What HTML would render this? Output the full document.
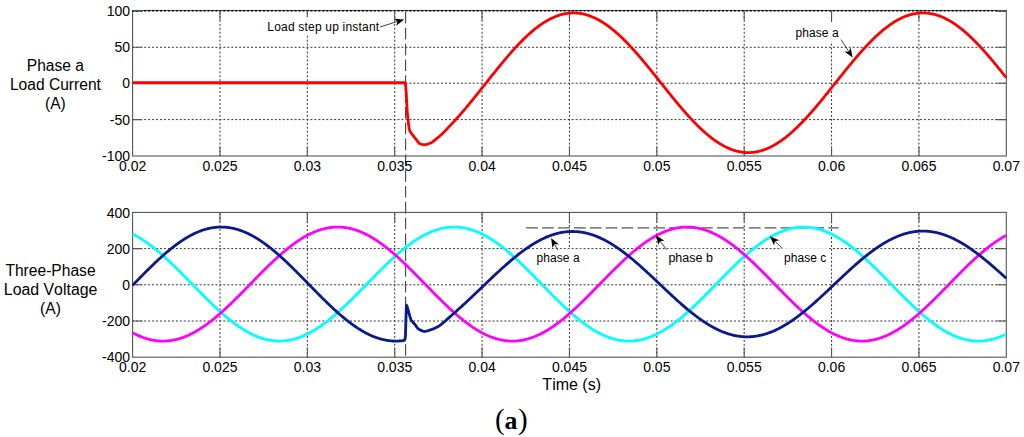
<!DOCTYPE html>
<html><head><meta charset="utf-8"><style>
html,body{margin:0;padding:0;background:#fff;}
body{width:1024px;height:437px;overflow:hidden;}
svg{display:block;}
text{font-family:"Liberation Sans", sans-serif;fill:#000;font-kerning:none;}
.tk text{font-size:14px;}
.yl text{font-size:15.6px;}
.tl{font-size:16px !important;}
.an text{font-size:12px;letter-spacing:0.05px;}
.sf text{font-family:"Liberation Serif", serif;}
</style></head><body>
<svg width="1024" height="437" viewBox="0 0 1024 437">
<rect width="1024" height="437" fill="#fff"/>
<rect x="132.60" y="10.50" width="873.70" height="145.50" fill="none" stroke="#555" stroke-width="1.1"/>
<path d="M219.97,10.50 V156.00 M307.34,10.50 V156.00 M394.71,10.50 V156.00 M482.08,10.50 V156.00 M569.45,10.50 V156.00 M656.82,10.50 V156.00 M744.19,10.50 V156.00 M831.56,10.50 V156.00 M918.93,10.50 V156.00" stroke="#333" stroke-width="1" stroke-dasharray="1.979 1.979" stroke-dashoffset="2.4955" fill="none"/>
<path d="M132.60,47.30 H1006.30 M132.60,83.20 H1006.30 M132.60,119.60 H1006.30" stroke="#333" stroke-width="1" stroke-dasharray="1.979 1.979" stroke-dashoffset="0.2755" fill="none"/>
<path d="M132.60,10.70 H1006.30" stroke="#000" stroke-width="1.6" stroke-dasharray="1.979 1.979" stroke-dashoffset="0.2755" fill="none"/><path d="M132.60,10.70 h9.8 M1006.30,10.70 h-9.8" stroke="#000" stroke-width="1.6" fill="none"/>
<path d="M219.97,156.00 v-9.6 M219.97,10.50 v9.6 M307.34,156.00 v-9.6 M307.34,10.50 v9.6 M394.71,156.00 v-9.6 M394.71,10.50 v9.6 M482.08,156.00 v-9.6 M482.08,10.50 v9.6 M569.45,156.00 v-9.6 M569.45,10.50 v9.6 M656.82,156.00 v-9.6 M656.82,10.50 v9.6 M744.19,156.00 v-9.6 M744.19,10.50 v9.6 M831.56,156.00 v-9.6 M831.56,10.50 v9.6 M918.93,156.00 v-9.6 M918.93,10.50 v9.6 M132.60,10.50 h9.6 M1006.30,10.50 h-9.6 M132.60,47.30 h9.6 M1006.30,47.30 h-9.6 M132.60,83.20 h9.6 M1006.30,83.20 h-9.6 M132.60,119.60 h9.6 M1006.30,119.60 h-9.6" stroke="#555" stroke-width="1.1" fill="none"/>
<rect x="132.60" y="212.40" width="873.70" height="144.80" fill="none" stroke="#555" stroke-width="1.1"/>
<path d="M219.97,212.40 V357.20 M307.34,212.40 V357.20 M394.71,212.40 V357.20 M482.08,212.40 V357.20 M569.45,212.40 V357.20 M656.82,212.40 V357.20 M744.19,212.40 V357.20 M831.56,212.40 V357.20 M918.93,212.40 V357.20" stroke="#333" stroke-width="1" stroke-dasharray="1.979 1.979" stroke-dashoffset="3.108" fill="none"/>
<path d="M132.60,248.60 H1006.30 M132.60,284.80 H1006.30 M132.60,321.00 H1006.30" stroke="#333" stroke-width="1" stroke-dasharray="1.979 1.979" stroke-dashoffset="0.2755" fill="none"/>
<path d="M219.97,357.20 v-9.6 M219.97,212.40 v9.6 M307.34,357.20 v-9.6 M307.34,212.40 v9.6 M394.71,357.20 v-9.6 M394.71,212.40 v9.6 M482.08,357.20 v-9.6 M482.08,212.40 v9.6 M569.45,357.20 v-9.6 M569.45,212.40 v9.6 M656.82,357.20 v-9.6 M656.82,212.40 v9.6 M744.19,357.20 v-9.6 M744.19,212.40 v9.6 M831.56,357.20 v-9.6 M831.56,212.40 v9.6 M918.93,357.20 v-9.6 M918.93,212.40 v9.6 M132.60,248.60 h9.6 M1006.30,248.60 h-9.6 M132.60,284.80 h9.6 M1006.30,284.80 h-9.6 M132.60,321.00 h9.6 M1006.30,321.00 h-9.6" stroke="#555" stroke-width="1.1" fill="none"/>
<path d="M405.6,10.50 V357.20" stroke="#444" stroke-width="1.1" stroke-dasharray="11.6 4.22" stroke-dashoffset="14.32" fill="none"/>
<path d="M526.2,227.9 H838.5" stroke="#555" stroke-width="1.1" stroke-dasharray="11.7 4.2" fill="none"/>
<g fill="none" stroke-width="2.8" stroke-linejoin="round" stroke-linecap="butt">
<path d="M132.60,234.08 L133.18,234.37 L133.77,234.67 L134.35,234.97 L134.93,235.28 L135.51,235.59 L136.10,235.91 L136.68,236.23 L137.26,236.56 L137.85,236.89 L138.43,237.23 L139.01,237.57 L139.59,237.92 L140.18,238.27 L140.76,238.63 L141.34,238.99 L141.93,239.36 L142.51,239.73 L143.09,240.11 L143.67,240.49 L144.26,240.88 L144.84,241.27 L145.42,241.67 L146.01,242.07 L146.59,242.48 L147.17,242.89 L147.75,243.31 L148.34,243.73 L148.92,244.15 L149.50,244.58 L150.09,245.01 L150.67,245.45 L151.25,245.89 L151.83,246.34 L152.42,246.79 L153.00,247.24 L153.58,247.70 L154.17,248.16 L154.75,248.63 L155.33,249.10 L155.91,249.57 L156.50,250.05 L157.08,250.53 L157.66,251.01 L158.25,251.50 L158.83,251.99 L159.41,252.49 L159.99,252.99 L160.58,253.49 L161.16,254.00 L161.74,254.51 L162.33,255.02 L162.91,255.53 L163.49,256.05 L164.07,256.58 L164.66,257.10 L165.24,257.63 L165.82,258.16 L166.41,258.69 L166.99,259.23 L167.57,259.77 L168.15,260.31 L168.74,260.85 L169.32,261.40 L169.90,261.95 L170.49,262.50 L171.07,263.06 L171.65,263.61 L172.23,264.17 L172.82,264.73 L173.40,265.30 L173.98,265.86 L174.57,266.43 L175.15,267.00 L175.73,267.57 L176.31,268.14 L176.90,268.72 L177.48,269.29 L178.06,269.87 L178.65,270.45 L179.23,271.03 L179.81,271.61 L180.39,272.20 L180.98,272.78 L181.56,273.37 L182.14,273.95 L182.73,274.54 L183.31,275.13 L183.89,275.72 L184.47,276.31 L185.06,276.91 L185.64,277.50 L186.22,278.09 L186.81,278.69 L187.39,279.28 L187.97,279.88 L188.55,280.47 L189.14,281.07 L189.72,281.67 L190.30,282.26 L190.89,282.86 L191.47,283.46 L192.05,284.06 L192.63,284.65 L193.22,285.25 L193.80,285.85 L194.38,286.45 L194.97,287.04 L195.55,287.64 L196.13,288.24 L196.71,288.83 L197.30,289.43 L197.88,290.02 L198.46,290.61 L199.05,291.21 L199.63,291.80 L200.21,292.39 L200.79,292.98 L201.38,293.57 L201.96,294.16 L202.54,294.75 L203.13,295.33 L203.71,295.92 L204.29,296.50 L204.87,297.09 L205.46,297.67 L206.04,298.25 L206.62,298.82 L207.21,299.40 L207.79,299.97 L208.37,300.55 L208.95,301.12 L209.54,301.69 L210.12,302.26 L210.70,302.82 L211.29,303.38 L211.87,303.94 L212.45,304.50 L213.03,305.06 L213.62,305.61 L214.20,306.17 L214.78,306.72 L215.37,307.26 L215.95,307.81 L216.53,308.35 L217.11,308.89 L217.70,309.43 L218.28,309.96 L218.86,310.49 L219.45,311.02 L220.03,311.54 L220.61,312.07 L221.19,312.58 L221.78,313.10 L222.36,313.61 L222.94,314.12 L223.53,314.63 L224.11,315.13 L224.69,315.63 L225.27,316.13 L225.86,316.62 L226.44,317.11 L227.02,317.59 L227.61,318.07 L228.19,318.55 L228.77,319.03 L229.35,319.50 L229.94,319.96 L230.52,320.42 L231.10,320.88 L231.69,321.34 L232.27,321.79 L232.85,322.23 L233.43,322.67 L234.02,323.11 L234.60,323.55 L235.18,323.97 L235.77,324.40 L236.35,324.82 L236.93,325.24 L237.51,325.65 L238.10,326.05 L238.68,326.45 L239.26,326.85 L239.85,327.24 L240.43,327.63 L241.01,328.02 L241.59,328.39 L242.18,328.77 L242.76,329.14 L243.34,329.50 L243.93,329.86 L244.51,330.21 L245.09,330.56 L245.67,330.90 L246.26,331.24 L246.84,331.58 L247.42,331.90 L248.01,332.23 L248.59,332.54 L249.17,332.85 L249.75,333.16 L250.34,333.46 L250.92,333.76 L251.50,334.05 L252.09,334.33 L252.67,334.61 L253.25,334.89 L253.83,335.16 L254.42,335.42 L255.00,335.67 L255.58,335.93 L256.17,336.17 L256.75,336.41 L257.33,336.65 L257.91,336.87 L258.50,337.10 L259.08,337.31 L259.66,337.52 L260.25,337.73 L260.83,337.93 L261.41,338.12 L261.99,338.31 L262.58,338.49 L263.16,338.67 L263.74,338.84 L264.33,339.00 L264.91,339.16 L265.49,339.31 L266.07,339.45 L266.66,339.59 L267.24,339.72 L267.82,339.85 L268.41,339.97 L268.99,340.09 L269.57,340.20 L270.15,340.30 L270.74,340.39 L271.32,340.48 L271.90,340.57 L272.49,340.65 L273.07,340.72 L273.65,340.78 L274.23,340.84 L274.82,340.89 L275.40,340.94 L275.98,340.98 L276.57,341.01 L277.15,341.04 L277.73,341.06 L278.31,341.08 L278.90,341.09 L279.48,341.09 L280.06,341.09 L280.65,341.08 L281.23,341.06 L281.81,341.04 L282.39,341.01 L282.98,340.98 L283.56,340.93 L284.14,340.89 L284.73,340.83 L285.31,340.77 L285.89,340.71 L286.47,340.64 L287.06,340.56 L287.64,340.47 L288.22,340.38 L288.81,340.28 L289.39,340.18 L289.97,340.07 L290.55,339.96 L291.14,339.83 L291.72,339.71 L292.30,339.57 L292.89,339.43 L293.47,339.29 L294.05,339.14 L294.63,338.98 L295.22,338.81 L295.80,338.64 L296.38,338.47 L296.97,338.28 L297.55,338.10 L298.13,337.90 L298.71,337.70 L299.30,337.50 L299.88,337.28 L300.46,337.07 L301.05,336.84 L301.63,336.61 L302.21,336.38 L302.79,336.14 L303.38,335.89 L303.96,335.64 L304.54,335.38 L305.13,335.12 L305.71,334.85 L306.29,334.58 L306.87,334.30 L307.46,334.01 L308.04,333.72 L308.62,333.42 L309.21,333.12 L309.79,332.81 L310.37,332.50 L310.95,332.18 L311.54,331.86 L312.12,331.53 L312.70,331.20 L313.29,330.86 L313.87,330.51 L314.45,330.16 L315.03,329.81 L315.62,329.45 L316.20,329.09 L316.78,328.72 L317.37,328.34 L317.95,327.96 L318.53,327.58 L319.11,327.19 L319.70,326.80 L320.28,326.40 L320.86,326.00 L321.45,325.59 L322.03,325.18 L322.61,324.76 L323.19,324.34 L323.78,323.92 L324.36,323.49 L324.94,323.05 L325.53,322.61 L326.11,322.17 L326.69,321.73 L327.27,321.28 L327.86,320.82 L328.44,320.36 L329.02,319.90 L329.61,319.43 L330.19,318.96 L330.77,318.49 L331.35,318.01 L331.94,317.53 L332.52,317.04 L333.10,316.55 L333.69,316.06 L334.27,315.56 L334.85,315.06 L335.43,314.56 L336.02,314.05 L336.60,313.54 L337.18,313.03 L337.77,312.51 L338.35,311.99 L338.93,311.47 L339.51,310.95 L340.10,310.42 L340.68,309.89 L341.26,309.35 L341.85,308.82 L342.43,308.28 L343.01,307.73 L343.59,307.19 L344.18,306.64 L344.76,306.09 L345.34,305.54 L345.93,304.98 L346.51,304.43 L347.09,303.87 L347.67,303.31 L348.26,302.74 L348.84,302.18 L349.42,301.61 L350.01,301.04 L350.59,300.47 L351.17,299.90 L351.75,299.32 L352.34,298.75 L352.92,298.17 L353.50,297.59 L354.08,297.01 L354.67,296.42 L355.25,295.84 L355.83,295.25 L356.42,294.67 L357.00,294.08 L357.58,293.49 L358.16,292.90 L358.75,292.31 L359.33,291.72 L359.91,291.13 L360.50,290.53 L361.08,289.94 L361.66,289.35 L362.24,288.75 L362.83,288.15 L363.41,287.56 L363.99,286.96 L364.58,286.36 L365.16,285.77 L365.74,285.17 L366.32,284.57 L366.91,283.98 L367.49,283.38 L368.07,282.78 L368.66,282.18 L369.24,281.59 L369.82,280.99 L370.40,280.39 L370.99,279.80 L371.57,279.20 L372.15,278.61 L372.74,278.01 L373.32,277.42 L373.90,276.83 L374.48,276.23 L375.07,275.64 L375.65,275.05 L376.23,274.46 L376.82,273.87 L377.40,273.29 L377.98,272.70 L378.56,272.12 L379.15,271.53 L379.73,270.95 L380.31,270.37 L380.90,269.79 L381.48,269.21 L382.06,268.64 L382.64,268.06 L383.23,267.49 L383.81,266.92 L384.39,266.35 L384.98,265.78 L385.56,265.22 L386.14,264.66 L386.72,264.10 L387.31,263.54 L387.89,262.98 L388.47,262.43 L389.06,261.88 L389.64,261.33 L390.22,260.78 L390.80,260.24 L391.39,259.69 L391.97,259.16 L392.55,258.62 L393.14,258.09 L393.72,257.56 L394.30,257.03 L394.88,256.50 L395.47,255.98 L396.05,255.46 L396.63,254.95 L397.22,254.44 L397.80,253.93 L398.38,253.42 L398.96,252.92 L399.55,252.42 L400.13,251.93 L400.71,251.44 L401.30,250.95 L401.88,250.46 L402.46,249.98 L403.04,249.51 L403.63,249.03 L404.21,248.56 L404.79,248.10 L405.38,247.64 L405.96,247.18 L406.54,246.72 L407.12,246.28 L407.71,245.83 L408.29,245.39 L408.87,244.95 L409.46,244.52 L410.04,244.09 L410.62,243.67 L411.20,243.25 L411.79,242.83 L412.37,242.42 L412.95,242.02 L413.54,241.62 L414.12,241.22 L414.70,240.83 L415.28,240.44 L415.87,240.06 L416.45,239.68 L417.03,239.31 L417.62,238.94 L418.20,238.58 L418.78,238.22 L419.36,237.87 L419.95,237.52 L420.53,237.18 L421.11,236.84 L421.70,236.51 L422.28,236.18 L422.86,235.86 L423.44,235.55 L424.03,235.24 L424.61,234.93 L425.19,234.63 L425.78,234.33 L426.36,234.05 L426.94,233.76 L427.52,233.48 L428.11,233.21 L428.69,232.94 L429.27,232.68 L429.86,232.43 L430.44,232.18 L431.02,231.93 L431.60,231.69 L432.19,231.46 L432.77,231.23 L433.35,231.01 L433.94,230.80 L434.52,230.59 L435.10,230.38 L435.68,230.18 L436.27,229.99 L436.85,229.81 L437.43,229.63 L438.02,229.45 L438.60,229.28 L439.18,229.12 L439.76,228.97 L440.35,228.81 L440.93,228.67 L441.51,228.53 L442.10,228.40 L442.68,228.28 L443.26,228.16 L443.84,228.04 L444.43,227.94 L445.01,227.83 L445.59,227.74 L446.18,227.65 L446.76,227.57 L447.34,227.49 L447.92,227.42 L448.51,227.36 L449.09,227.30 L449.67,227.25 L450.26,227.20 L450.84,227.16 L451.42,227.13 L452.00,227.10 L452.59,227.08 L453.17,227.07 L453.75,227.06 L454.34,227.06 L454.92,227.07 L455.50,227.08 L456.08,227.09 L456.67,227.12 L457.25,227.15 L457.83,227.18 L458.42,227.23 L459.00,227.27 L459.58,227.33 L460.16,227.39 L460.75,227.46 L461.33,227.53 L461.91,227.61 L462.50,227.70 L463.08,227.79 L463.66,227.89 L464.24,227.99 L464.83,228.10 L465.41,228.22 L465.99,228.34 L466.58,228.47 L467.16,228.61 L467.74,228.75 L468.32,228.89 L468.91,229.05 L469.49,229.21 L470.07,229.37 L470.66,229.54 L471.24,229.72 L471.82,229.90 L472.40,230.09 L472.99,230.29 L473.57,230.49 L474.15,230.70 L474.74,230.91 L475.32,231.13 L475.90,231.35 L476.48,231.58 L477.07,231.82 L477.65,232.06 L478.23,232.31 L478.82,232.56 L479.40,232.82 L479.98,233.09 L480.56,233.36 L481.15,233.63 L481.73,233.91 L482.31,234.20 L482.90,234.49 L483.48,234.79 L484.06,235.09 L484.64,235.40 L485.23,235.72 L485.81,236.03 L486.39,236.36 L486.98,236.69 L487.56,237.02 L488.14,237.36 L488.72,237.71 L489.31,238.06 L489.89,238.41 L490.47,238.77 L491.06,239.14 L491.64,239.51 L492.22,239.88 L492.80,240.26 L493.39,240.65 L493.97,241.04 L494.55,241.43 L495.14,241.83 L495.72,242.24 L496.30,242.64 L496.88,243.06 L497.47,243.47 L498.05,243.89 L498.63,244.32 L499.22,244.75 L499.80,245.19 L500.38,245.63 L500.96,246.07 L501.55,246.52 L502.13,246.97 L502.71,247.42 L503.30,247.88 L503.88,248.35 L504.46,248.81 L505.04,249.29 L505.63,249.76 L506.21,250.24 L506.79,250.72 L507.38,251.21 L507.96,251.70 L508.54,252.19 L509.12,252.69 L509.71,253.19 L510.29,253.69 L510.87,254.20 L511.46,254.71 L512.04,255.22 L512.62,255.74 L513.20,256.26 L513.79,256.78 L514.37,257.31 L514.95,257.84 L515.54,258.37 L516.12,258.91 L516.70,259.44 L517.28,259.98 L517.87,260.53 L518.45,261.07 L519.03,261.62 L519.62,262.17 L520.20,262.72 L520.78,263.28 L521.36,263.84 L521.95,264.40 L522.53,264.96 L523.11,265.52 L523.70,266.09 L524.28,266.66 L524.86,267.23 L525.44,267.80 L526.03,268.37 L526.61,268.95 L527.19,269.52 L527.78,270.10 L528.36,270.68 L528.94,271.26 L529.52,271.85 L530.11,272.43 L530.69,273.01 L531.27,273.60 L531.86,274.19 L532.44,274.78 L533.02,275.37 L533.60,275.96 L534.19,276.55 L534.77,277.14 L535.35,277.74 L535.94,278.33 L536.52,278.93 L537.10,279.52 L537.68,280.12 L538.27,280.71 L538.85,281.31 L539.43,281.91 L540.02,282.50 L540.60,283.10 L541.18,283.70 L541.76,284.30 L542.35,284.89 L542.93,285.49 L543.51,286.09 L544.10,286.68 L544.68,287.28 L545.26,287.88 L545.84,288.47 L546.43,289.07 L547.01,289.66 L547.59,290.26 L548.18,290.85 L548.76,291.44 L549.34,292.04 L549.92,292.63 L550.51,293.22 L551.09,293.81 L551.67,294.40 L552.26,294.98 L552.84,295.57 L553.42,296.15 L554.00,296.74 L554.59,297.32 L555.17,297.90 L555.75,298.48 L556.34,299.05 L556.92,299.63 L557.50,300.20 L558.08,300.78 L558.67,301.35 L559.25,301.91 L559.83,302.48 L560.42,303.05 L561.00,303.61 L561.58,304.17 L562.16,304.73 L562.75,305.28 L563.33,305.84 L563.91,306.39 L564.50,306.94 L565.08,307.48 L565.66,308.02 L566.24,308.57 L566.83,309.10 L567.41,309.64 L567.99,310.17 L568.58,310.70 L569.16,311.23 L569.74,311.75 L570.32,312.27 L570.91,312.79 L571.49,313.31 L572.07,313.82 L572.66,314.32 L573.24,314.83 L573.82,315.33 L574.40,315.83 L574.99,316.32 L575.57,316.81 L576.15,317.30 L576.74,317.79 L577.32,318.27 L577.90,318.74 L578.48,319.21 L579.07,319.68 L579.65,320.15 L580.23,320.61 L580.82,321.06 L581.40,321.52 L581.98,321.97 L582.56,322.41 L583.15,322.85 L583.73,323.29 L584.31,323.72 L584.90,324.15 L585.48,324.57 L586.06,324.99 L586.64,325.40 L587.23,325.81 L587.81,326.21 L588.39,326.61 L588.98,327.01 L589.56,327.40 L590.14,327.79 L590.72,328.17 L591.31,328.54 L591.89,328.92 L592.47,329.28 L593.06,329.64 L593.64,330.00 L594.22,330.35 L594.80,330.70 L595.39,331.04 L595.97,331.38 L596.55,331.71 L597.14,332.03 L597.72,332.35 L598.30,332.67 L598.88,332.98 L599.47,333.28 L600.05,333.58 L600.63,333.88 L601.22,334.16 L601.80,334.45 L602.38,334.72 L602.96,335.00 L603.55,335.26 L604.13,335.52 L604.71,335.78 L605.30,336.03 L605.88,336.27 L606.46,336.51 L607.04,336.74 L607.63,336.96 L608.21,337.18 L608.79,337.40 L609.38,337.61 L609.96,337.81 L610.54,338.01 L611.12,338.20 L611.71,338.38 L612.29,338.56 L612.87,338.73 L613.46,338.90 L614.04,339.06 L614.62,339.22 L615.20,339.37 L615.79,339.51 L616.37,339.65 L616.95,339.78 L617.54,339.90 L618.12,340.02 L618.70,340.13 L619.28,340.24 L619.87,340.34 L620.45,340.43 L621.03,340.52 L621.62,340.60 L622.20,340.68 L622.78,340.74 L623.36,340.81 L623.95,340.86 L624.53,340.91 L625.11,340.96 L625.70,341.00 L626.28,341.03 L626.86,341.05 L627.44,341.07 L628.03,341.08 L628.61,341.09 L629.19,341.09 L629.78,341.08 L630.36,341.07 L630.94,341.05 L631.52,341.03 L632.11,341.00 L632.69,340.96 L633.27,340.92 L633.86,340.87 L634.44,340.81 L635.02,340.75 L635.60,340.68 L636.19,340.61 L636.77,340.52 L637.35,340.44 L637.94,340.34 L638.52,340.24 L639.10,340.14 L639.68,340.03 L640.27,339.91 L640.85,339.78 L641.43,339.65 L642.02,339.52 L642.60,339.38 L643.18,339.23 L643.76,339.07 L644.35,338.91 L644.93,338.75 L645.51,338.57 L646.10,338.39 L646.68,338.21 L647.26,338.02 L647.84,337.82 L648.43,337.62 L649.01,337.41 L649.59,337.20 L650.18,336.98 L650.76,336.75 L651.34,336.52 L651.92,336.28 L652.51,336.04 L653.09,335.79 L653.67,335.54 L654.26,335.28 L654.84,335.01 L655.42,334.74 L656.00,334.46 L656.59,334.18 L657.17,333.89 L657.75,333.60 L658.34,333.30 L658.92,333.00 L659.50,332.69 L660.08,332.37 L660.67,332.05 L661.25,331.73 L661.83,331.40 L662.42,331.06 L663.00,330.72 L663.58,330.37 L664.16,330.02 L664.75,329.67 L665.33,329.31 L665.91,328.94 L666.50,328.57 L667.08,328.19 L667.66,327.81 L668.24,327.43 L668.83,327.04 L669.41,326.64 L669.99,326.24 L670.58,325.84 L671.16,325.43 L671.74,325.01 L672.32,324.59 L672.91,324.17 L673.49,323.75 L674.07,323.31 L674.66,322.88 L675.24,322.44 L675.82,321.99 L676.40,321.55 L676.99,321.09 L677.57,320.64 L678.15,320.18 L678.74,319.71 L679.32,319.24 L679.90,318.77 L680.48,318.30 L681.07,317.82 L681.65,317.33 L682.23,316.85 L682.82,316.36 L683.40,315.86 L683.98,315.36 L684.56,314.86 L685.15,314.36 L685.73,313.85 L686.31,313.34 L686.90,312.82 L687.48,312.31 L688.06,311.79 L688.64,311.26 L689.23,310.74 L689.81,310.21 L690.39,309.67 L690.98,309.14 L691.56,308.60 L692.14,308.06 L692.72,307.52 L693.31,306.97 L693.89,306.42 L694.47,305.87 L695.06,305.32 L695.64,304.76 L696.22,304.20 L696.80,303.64 L697.39,303.08 L697.97,302.52 L698.55,301.95 L699.14,301.38 L699.72,300.81 L700.30,300.24 L700.88,299.67 L701.47,299.09 L702.05,298.51 L702.63,297.94 L703.22,297.36 L703.80,296.77 L704.38,296.19 L704.96,295.61 L705.55,295.02 L706.13,294.43 L706.71,293.84 L707.30,293.26 L707.88,292.67 L708.46,292.07 L709.04,291.48 L709.63,290.89 L710.21,290.30 L710.79,289.70 L711.38,289.11 L711.96,288.51 L712.54,287.92 L713.12,287.32 L713.71,286.72 L714.29,286.13 L714.87,285.53 L715.46,284.93 L716.04,284.33 L716.62,283.74 L717.20,283.14 L717.79,282.54 L718.37,281.94 L718.95,281.35 L719.54,280.75 L720.12,280.15 L720.70,279.56 L721.28,278.96 L721.87,278.37 L722.45,277.77 L723.03,277.18 L723.62,276.59 L724.20,276.00 L724.78,275.41 L725.36,274.82 L725.95,274.23 L726.53,273.64 L727.11,273.05 L727.70,272.47 L728.28,271.88 L728.86,271.30 L729.44,270.72 L730.03,270.14 L730.61,269.56 L731.19,268.98 L731.78,268.41 L732.36,267.83 L732.94,267.26 L733.52,266.69 L734.11,266.12 L734.69,265.56 L735.27,264.99 L735.86,264.43 L736.44,263.87 L737.02,263.31 L737.60,262.76 L738.19,262.21 L738.77,261.66 L739.35,261.11 L739.94,260.56 L740.52,260.02 L741.10,259.48 L741.68,258.94 L742.27,258.41 L742.85,257.87 L743.43,257.34 L744.02,256.82 L744.60,256.30 L745.18,255.77 L745.76,255.26 L746.35,254.74 L746.93,254.23 L747.51,253.73 L748.10,253.22 L748.68,252.72 L749.26,252.22 L749.84,251.73 L750.43,251.24 L751.01,250.75 L751.59,250.27 L752.18,249.79 L752.76,249.32 L753.34,248.84 L753.92,248.38 L754.51,247.91 L755.09,247.45 L755.67,247.00 L756.26,246.54 L756.84,246.10 L757.42,245.65 L758.00,245.21 L758.59,244.78 L759.17,244.35 L759.75,243.92 L760.34,243.50 L760.92,243.08 L761.50,242.67 L762.08,242.26 L762.67,241.86 L763.25,241.46 L763.83,241.06 L764.42,240.67 L765.00,240.29 L765.58,239.91 L766.16,239.53 L766.75,239.16 L767.33,238.80 L767.91,238.44 L768.50,238.08 L769.08,237.73 L769.66,237.38 L770.24,237.04 L770.83,236.71 L771.41,236.38 L771.99,236.05 L772.58,235.74 L773.16,235.42 L773.74,235.11 L774.32,234.81 L774.91,234.51 L775.49,234.22 L776.07,233.93 L776.66,233.65 L777.24,233.37 L777.82,233.10 L778.40,232.84 L778.99,232.58 L779.57,232.33 L780.15,232.08 L780.74,231.84 L781.32,231.60 L781.90,231.37 L782.48,231.14 L783.07,230.92 L783.65,230.71 L784.23,230.50 L784.82,230.30 L785.40,230.11 L785.98,229.92 L786.56,229.73 L787.15,229.56 L787.73,229.38 L788.31,229.22 L788.89,229.06 L789.48,228.90 L790.06,228.76 L790.64,228.62 L791.23,228.48 L791.81,228.35 L792.39,228.23 L792.97,228.11 L793.56,228.00 L794.14,227.89 L794.72,227.80 L795.31,227.70 L795.89,227.62 L796.47,227.54 L797.05,227.46 L797.64,227.39 L798.22,227.33 L798.80,227.28 L799.39,227.23 L799.97,227.19 L800.55,227.15 L801.13,227.12 L801.72,227.10 L802.30,227.08 L802.88,227.07 L803.47,227.06 L804.05,227.06 L804.63,227.07 L805.21,227.08 L805.80,227.10 L806.38,227.13 L806.96,227.16 L807.55,227.20 L808.13,227.24 L808.71,227.30 L809.29,227.35 L809.88,227.42 L810.46,227.49 L811.04,227.56 L811.63,227.64 L812.21,227.73 L812.79,227.83 L813.37,227.93 L813.96,228.04 L814.54,228.15 L815.12,228.27 L815.71,228.39 L816.29,228.52 L816.87,228.66 L817.45,228.81 L818.04,228.96 L818.62,229.11 L819.20,229.27 L819.79,229.44 L820.37,229.61 L820.95,229.79 L821.53,229.98 L822.12,230.17 L822.70,230.37 L823.28,230.57 L823.87,230.78 L824.45,231.00 L825.03,231.22 L825.61,231.45 L826.20,231.68 L826.78,231.92 L827.36,232.16 L827.95,232.41 L828.53,232.67 L829.11,232.93 L829.69,233.19 L830.28,233.47 L830.86,233.74 L831.44,234.03 L832.03,234.32 L832.61,234.61 L833.19,234.91 L833.77,235.22 L834.36,235.53 L834.94,235.84 L835.52,236.16 L836.11,236.49 L836.69,236.82 L837.27,237.16 L837.85,237.50 L838.44,237.85 L839.02,238.20 L839.60,238.56 L840.19,238.92 L840.77,239.29 L841.35,239.66 L841.93,240.04 L842.52,240.42 L843.10,240.80 L843.68,241.20 L844.27,241.59 L844.85,241.99 L845.43,242.40 L846.01,242.81 L846.60,243.22 L847.18,243.64 L847.76,244.06 L848.35,244.49 L848.93,244.92 L849.51,245.36 L850.09,245.80 L850.68,246.25 L851.26,246.70 L851.84,247.15 L852.43,247.61 L853.01,248.07 L853.59,248.53 L854.17,249.00 L854.76,249.47 L855.34,249.95 L855.92,250.43 L856.51,250.92 L857.09,251.40 L857.67,251.90 L858.25,252.39 L858.84,252.89 L859.42,253.39 L860.00,253.90 L860.59,254.40 L861.17,254.92 L861.75,255.43 L862.33,255.95 L862.92,256.47 L863.50,256.99 L864.08,257.52 L864.67,258.05 L865.25,258.59 L865.83,259.12 L866.41,259.66 L867.00,260.20 L867.58,260.74 L868.16,261.29 L868.75,261.84 L869.33,262.39 L869.91,262.95 L870.49,263.50 L871.08,264.06 L871.66,264.62 L872.24,265.18 L872.83,265.75 L873.41,266.31 L873.99,266.88 L874.57,267.45 L875.16,268.03 L875.74,268.60 L876.32,269.18 L876.91,269.75 L877.49,270.33 L878.07,270.91 L878.65,271.50 L879.24,272.08 L879.82,272.66 L880.40,273.25 L880.99,273.84 L881.57,274.42 L882.15,275.01 L882.73,275.60 L883.32,276.20 L883.90,276.79 L884.48,277.38 L885.07,277.97 L885.65,278.57 L886.23,279.16 L886.81,279.76 L887.40,280.36 L887.98,280.95 L888.56,281.55 L889.15,282.15 L889.73,282.74 L890.31,283.34 L890.89,283.94 L891.48,284.53 L892.06,285.13 L892.64,285.73 L893.23,286.33 L893.81,286.92 L894.39,287.52 L894.97,288.12 L895.56,288.71 L896.14,289.31 L896.72,289.90 L897.31,290.50 L897.89,291.09 L898.47,291.68 L899.05,292.27 L899.64,292.86 L900.22,293.45 L900.80,294.04 L901.39,294.63 L901.97,295.22 L902.55,295.80 L903.13,296.39 L903.72,296.97 L904.30,297.55 L904.88,298.13 L905.47,298.71 L906.05,299.28 L906.63,299.86 L907.21,300.43 L907.80,301.00 L908.38,301.57 L908.96,302.14 L909.55,302.71 L910.13,303.27 L910.71,303.83 L911.29,304.39 L911.88,304.95 L912.46,305.50 L913.04,306.06 L913.63,306.61 L914.21,307.15 L914.79,307.70 L915.37,308.24 L915.96,308.78 L916.54,309.32 L917.12,309.85 L917.71,310.38 L918.29,310.91 L918.87,311.44 L919.45,311.96 L920.04,312.48 L920.62,313.00 L921.20,313.51 L921.79,314.02 L922.37,314.53 L922.95,315.03 L923.53,315.53 L924.12,316.03 L924.70,316.52 L925.28,317.01 L925.87,317.50 L926.45,317.98 L927.03,318.46 L927.61,318.93 L928.20,319.40 L928.78,319.87 L929.36,320.33 L929.95,320.79 L930.53,321.25 L931.11,321.70 L931.69,322.14 L932.28,322.59 L932.86,323.03 L933.44,323.46 L934.03,323.89 L934.61,324.31 L935.19,324.74 L935.77,325.15 L936.36,325.56 L936.94,325.97 L937.52,326.37 L938.11,326.77 L938.69,327.17 L939.27,327.56 L939.85,327.94 L940.44,328.32 L941.02,328.69 L941.60,329.06 L942.19,329.43 L942.77,329.79 L943.35,330.14 L943.93,330.49 L944.52,330.84 L945.10,331.17 L945.68,331.51 L946.27,331.84 L946.85,332.16 L947.43,332.48 L948.01,332.79 L948.60,333.10 L949.18,333.40 L949.76,333.70 L950.35,333.99 L950.93,334.28 L951.51,334.56 L952.09,334.83 L952.68,335.10 L953.26,335.37 L953.84,335.62 L954.43,335.88 L955.01,336.12 L955.59,336.36 L956.17,336.60 L956.76,336.83 L957.34,337.05 L957.92,337.27 L958.51,337.48 L959.09,337.69 L959.67,337.89 L960.25,338.08 L960.84,338.27 L961.42,338.45 L962.00,338.63 L962.59,338.80 L963.17,338.97 L963.75,339.13 L964.33,339.28 L964.92,339.42 L965.50,339.56 L966.08,339.70 L966.67,339.83 L967.25,339.95 L967.83,340.06 L968.41,340.17 L969.00,340.28 L969.58,340.38 L970.16,340.47 L970.75,340.55 L971.33,340.63 L971.91,340.70 L972.49,340.77 L973.08,340.83 L973.66,340.88 L974.24,340.93 L974.83,340.97 L975.41,341.01 L975.99,341.04 L976.57,341.06 L977.16,341.08 L977.74,341.09 L978.32,341.09 L978.91,341.09 L979.49,341.08 L980.07,341.07 L980.65,341.04 L981.24,341.02 L981.82,340.98 L982.40,340.94 L982.99,340.90 L983.57,340.84 L984.15,340.79 L984.73,340.72 L985.32,340.65 L985.90,340.57 L986.48,340.49 L987.07,340.40 L987.65,340.30 L988.23,340.20 L988.81,340.09 L989.40,339.98 L989.98,339.86 L990.56,339.73 L991.15,339.60 L991.73,339.46 L992.31,339.32 L992.89,339.17 L993.48,339.01 L994.06,338.85 L994.64,338.68 L995.23,338.50 L995.81,338.32 L996.39,338.13 L996.97,337.94 L997.56,337.74 L998.14,337.54 L998.72,337.33 L999.31,337.11 L999.89,336.89 L1000.47,336.66 L1001.05,336.43 L1001.64,336.19 L1002.22,335.94 L1002.80,335.69 L1003.39,335.43 L1003.97,335.17 L1004.55,334.90 L1005.13,334.63 L1005.72,334.35 L1006.30,334.07" stroke="#00ffff"/>
<path d="M132.60,332.81 L133.18,333.12 L133.77,333.42 L134.35,333.72 L134.93,334.01 L135.51,334.30 L136.10,334.58 L136.68,334.85 L137.26,335.12 L137.85,335.38 L138.43,335.64 L139.01,335.89 L139.59,336.14 L140.18,336.38 L140.76,336.62 L141.34,336.84 L141.93,337.07 L142.51,337.29 L143.09,337.50 L143.67,337.70 L144.26,337.90 L144.84,338.10 L145.42,338.28 L146.01,338.47 L146.59,338.64 L147.17,338.81 L147.75,338.98 L148.34,339.14 L148.92,339.29 L149.50,339.43 L150.09,339.57 L150.67,339.71 L151.25,339.84 L151.83,339.96 L152.42,340.07 L153.00,340.18 L153.58,340.28 L154.17,340.38 L154.75,340.47 L155.33,340.56 L155.91,340.64 L156.50,340.71 L157.08,340.77 L157.66,340.83 L158.25,340.89 L158.83,340.93 L159.41,340.98 L159.99,341.01 L160.58,341.04 L161.16,341.06 L161.74,341.08 L162.33,341.09 L162.91,341.09 L163.49,341.09 L164.07,341.08 L164.66,341.06 L165.24,341.04 L165.82,341.01 L166.41,340.98 L166.99,340.94 L167.57,340.89 L168.15,340.84 L168.74,340.78 L169.32,340.72 L169.90,340.65 L170.49,340.57 L171.07,340.48 L171.65,340.39 L172.23,340.30 L172.82,340.20 L173.40,340.09 L173.98,339.97 L174.57,339.85 L175.15,339.72 L175.73,339.59 L176.31,339.45 L176.90,339.31 L177.48,339.16 L178.06,339.00 L178.65,338.84 L179.23,338.67 L179.81,338.49 L180.39,338.31 L180.98,338.12 L181.56,337.93 L182.14,337.73 L182.73,337.52 L183.31,337.31 L183.89,337.10 L184.47,336.87 L185.06,336.65 L185.64,336.41 L186.22,336.17 L186.81,335.93 L187.39,335.67 L187.97,335.42 L188.55,335.15 L189.14,334.89 L189.72,334.61 L190.30,334.33 L190.89,334.05 L191.47,333.76 L192.05,333.46 L192.63,333.16 L193.22,332.85 L193.80,332.54 L194.38,332.22 L194.97,331.90 L195.55,331.57 L196.13,331.24 L196.71,330.90 L197.30,330.56 L197.88,330.21 L198.46,329.86 L199.05,329.50 L199.63,329.14 L200.21,328.77 L200.79,328.39 L201.38,328.01 L201.96,327.63 L202.54,327.24 L203.13,326.85 L203.71,326.45 L204.29,326.05 L204.87,325.65 L205.46,325.23 L206.04,324.82 L206.62,324.40 L207.21,323.97 L207.79,323.54 L208.37,323.11 L208.95,322.67 L209.54,322.23 L210.12,321.79 L210.70,321.34 L211.29,320.88 L211.87,320.42 L212.45,319.96 L213.03,319.49 L213.62,319.02 L214.20,318.55 L214.78,318.07 L215.37,317.59 L215.95,317.11 L216.53,316.62 L217.11,316.12 L217.70,315.63 L218.28,315.13 L218.86,314.63 L219.45,314.12 L220.03,313.61 L220.61,313.10 L221.19,312.58 L221.78,312.06 L222.36,311.54 L222.94,311.02 L223.53,310.49 L224.11,309.96 L224.69,309.42 L225.27,308.89 L225.86,308.35 L226.44,307.81 L227.02,307.26 L227.61,306.71 L228.19,306.17 L228.77,305.61 L229.35,305.06 L229.94,304.50 L230.52,303.94 L231.10,303.38 L231.69,302.82 L232.27,302.25 L232.85,301.69 L233.43,301.12 L234.02,300.55 L234.60,299.97 L235.18,299.40 L235.77,298.82 L236.35,298.24 L236.93,297.66 L237.51,297.08 L238.10,296.50 L238.68,295.92 L239.26,295.33 L239.85,294.75 L240.43,294.16 L241.01,293.57 L241.59,292.98 L242.18,292.39 L242.76,291.80 L243.34,291.21 L243.93,290.61 L244.51,290.02 L245.09,289.42 L245.67,288.83 L246.26,288.23 L246.84,287.64 L247.42,287.04 L248.01,286.44 L248.59,285.85 L249.17,285.25 L249.75,284.65 L250.34,284.06 L250.92,283.46 L251.50,282.86 L252.09,282.26 L252.67,281.67 L253.25,281.07 L253.83,280.47 L254.42,279.88 L255.00,279.28 L255.58,278.69 L256.17,278.09 L256.75,277.50 L257.33,276.90 L257.91,276.31 L258.50,275.72 L259.08,275.13 L259.66,274.54 L260.25,273.95 L260.83,273.37 L261.41,272.78 L261.99,272.19 L262.58,271.61 L263.16,271.03 L263.74,270.45 L264.33,269.87 L264.91,269.29 L265.49,268.71 L266.07,268.14 L266.66,267.57 L267.24,267.00 L267.82,266.43 L268.41,265.86 L268.99,265.29 L269.57,264.73 L270.15,264.17 L270.74,263.61 L271.32,263.05 L271.90,262.50 L272.49,261.95 L273.07,261.40 L273.65,260.85 L274.23,260.31 L274.82,259.77 L275.40,259.23 L275.98,258.69 L276.57,258.16 L277.15,257.63 L277.73,257.10 L278.31,256.57 L278.90,256.05 L279.48,255.53 L280.06,255.02 L280.65,254.51 L281.23,254.00 L281.81,253.49 L282.39,252.99 L282.98,252.49 L283.56,251.99 L284.14,251.50 L284.73,251.01 L285.31,250.53 L285.89,250.05 L286.47,249.57 L287.06,249.09 L287.64,248.63 L288.22,248.16 L288.81,247.70 L289.39,247.24 L289.97,246.79 L290.55,246.34 L291.14,245.89 L291.72,245.45 L292.30,245.01 L292.89,244.58 L293.47,244.15 L294.05,243.72 L294.63,243.30 L295.22,242.89 L295.80,242.48 L296.38,242.07 L296.97,241.67 L297.55,241.27 L298.13,240.88 L298.71,240.49 L299.30,240.11 L299.88,239.73 L300.46,239.36 L301.05,238.99 L301.63,238.63 L302.21,238.27 L302.79,237.92 L303.38,237.57 L303.96,237.23 L304.54,236.89 L305.13,236.55 L305.71,236.23 L306.29,235.91 L306.87,235.59 L307.46,235.28 L308.04,234.97 L308.62,234.67 L309.21,234.37 L309.79,234.08 L310.37,233.80 L310.95,233.52 L311.54,233.25 L312.12,232.98 L312.70,232.72 L313.29,232.46 L313.87,232.21 L314.45,231.96 L315.03,231.72 L315.62,231.49 L316.20,231.26 L316.78,231.04 L317.37,230.82 L317.95,230.61 L318.53,230.41 L319.11,230.21 L319.70,230.02 L320.28,229.83 L320.86,229.65 L321.45,229.47 L322.03,229.31 L322.61,229.14 L323.19,228.99 L323.78,228.83 L324.36,228.69 L324.94,228.55 L325.53,228.42 L326.11,228.29 L326.69,228.17 L327.27,228.06 L327.86,227.95 L328.44,227.85 L329.02,227.75 L329.61,227.66 L330.19,227.58 L330.77,227.50 L331.35,227.43 L331.94,227.37 L332.52,227.31 L333.10,227.25 L333.69,227.21 L334.27,227.17 L334.85,227.14 L335.43,227.11 L336.02,227.09 L336.60,227.07 L337.18,227.06 L337.77,227.06 L338.35,227.07 L338.93,227.08 L339.51,227.09 L340.10,227.11 L340.68,227.14 L341.26,227.18 L341.85,227.22 L342.43,227.27 L343.01,227.32 L343.59,227.38 L344.18,227.45 L344.76,227.52 L345.34,227.60 L345.93,227.69 L346.51,227.78 L347.09,227.87 L347.67,227.98 L348.26,228.09 L348.84,228.20 L349.42,228.33 L350.01,228.45 L350.59,228.59 L351.17,228.73 L351.75,228.87 L352.34,229.03 L352.92,229.19 L353.50,229.35 L354.08,229.52 L354.67,229.70 L355.25,229.88 L355.83,230.07 L356.42,230.26 L357.00,230.46 L357.58,230.67 L358.16,230.88 L358.75,231.10 L359.33,231.32 L359.91,231.55 L360.50,231.79 L361.08,232.03 L361.66,232.28 L362.24,232.53 L362.83,232.79 L363.41,233.05 L363.99,233.32 L364.58,233.59 L365.16,233.88 L365.74,234.16 L366.32,234.45 L366.91,234.75 L367.49,235.05 L368.07,235.36 L368.66,235.67 L369.24,235.99 L369.82,236.32 L370.40,236.64 L370.99,236.98 L371.57,237.32 L372.15,237.66 L372.74,238.01 L373.32,238.37 L373.90,238.73 L374.48,239.09 L375.07,239.46 L375.65,239.83 L376.23,240.21 L376.82,240.60 L377.40,240.99 L377.98,241.38 L378.56,241.78 L379.15,242.18 L379.73,242.59 L380.31,243.00 L380.90,243.42 L381.48,243.84 L382.06,244.26 L382.64,244.69 L383.23,245.13 L383.81,245.57 L384.39,246.01 L384.98,246.46 L385.56,246.91 L386.14,247.36 L386.72,247.82 L387.31,248.28 L387.89,248.75 L388.47,249.22 L389.06,249.70 L389.64,250.18 L390.22,250.66 L390.80,251.14 L391.39,251.63 L391.97,252.13 L392.55,252.62 L393.14,253.12 L393.72,253.63 L394.30,254.13 L394.88,254.64 L395.47,255.16 L396.05,255.67 L396.63,256.19 L397.22,256.72 L397.80,257.24 L398.38,257.77 L398.96,258.30 L399.55,258.84 L400.13,259.37 L400.71,259.91 L401.30,260.45 L401.88,261.00 L402.46,261.55 L403.04,262.10 L403.63,262.65 L404.21,263.20 L404.79,263.76 L405.38,264.32 L405.96,264.88 L406.54,265.45 L407.12,266.01 L407.71,266.58 L408.29,267.15 L408.87,267.72 L409.46,268.29 L410.04,268.87 L410.62,269.45 L411.20,270.02 L411.79,270.60 L412.37,271.18 L412.95,271.77 L413.54,272.35 L414.12,272.94 L414.70,273.52 L415.28,274.11 L415.87,274.70 L416.45,275.29 L417.03,275.88 L417.62,276.47 L418.20,277.06 L418.78,277.66 L419.36,278.25 L419.95,278.85 L420.53,279.44 L421.11,280.04 L421.70,280.63 L422.28,281.23 L422.86,281.83 L423.44,282.42 L424.03,283.02 L424.61,283.62 L425.19,284.22 L425.78,284.81 L426.36,285.41 L426.94,286.01 L427.52,286.61 L428.11,287.20 L428.69,287.80 L429.27,288.39 L429.86,288.99 L430.44,289.58 L431.02,290.18 L431.60,290.77 L432.19,291.37 L432.77,291.96 L433.35,292.55 L433.94,293.14 L434.52,293.73 L435.10,294.32 L435.68,294.90 L436.27,295.49 L436.85,296.08 L437.43,296.66 L438.02,297.24 L438.60,297.82 L439.18,298.40 L439.76,298.98 L440.35,299.55 L440.93,300.13 L441.51,300.70 L442.10,301.27 L442.68,301.84 L443.26,302.41 L443.84,302.97 L444.43,303.53 L445.01,304.09 L445.59,304.65 L446.18,305.21 L446.76,305.76 L447.34,306.31 L447.92,306.86 L448.51,307.41 L449.09,307.95 L449.67,308.49 L450.26,309.03 L450.84,309.57 L451.42,310.10 L452.00,310.63 L452.59,311.16 L453.17,311.68 L453.75,312.20 L454.34,312.72 L454.92,313.24 L455.50,313.75 L456.08,314.26 L456.67,314.76 L457.25,315.26 L457.83,315.76 L458.42,316.26 L459.00,316.75 L459.58,317.24 L460.16,317.72 L460.75,318.20 L461.33,318.68 L461.91,319.15 L462.50,319.62 L463.08,320.09 L463.66,320.55 L464.24,321.00 L464.83,321.46 L465.41,321.91 L465.99,322.35 L466.58,322.79 L467.16,323.23 L467.74,323.66 L468.32,324.09 L468.91,324.51 L469.49,324.93 L470.07,325.35 L470.66,325.76 L471.24,326.16 L471.82,326.56 L472.40,326.96 L472.99,327.35 L473.57,327.74 L474.15,328.12 L474.74,328.49 L475.32,328.87 L475.90,329.23 L476.48,329.60 L477.07,329.95 L477.65,330.31 L478.23,330.65 L478.82,330.99 L479.40,331.33 L479.98,331.66 L480.56,331.99 L481.15,332.31 L481.73,332.63 L482.31,332.94 L482.90,333.24 L483.48,333.54 L484.06,333.84 L484.64,334.13 L485.23,334.41 L485.81,334.69 L486.39,334.96 L486.98,335.23 L487.56,335.49 L488.14,335.74 L488.72,335.99 L489.31,336.24 L489.89,336.47 L490.47,336.71 L491.06,336.93 L491.64,337.16 L492.22,337.37 L492.80,337.58 L493.39,337.78 L493.97,337.98 L494.55,338.17 L495.14,338.36 L495.72,338.54 L496.30,338.71 L496.88,338.88 L497.47,339.04 L498.05,339.20 L498.63,339.35 L499.22,339.49 L499.80,339.63 L500.38,339.76 L500.96,339.88 L501.55,340.00 L502.13,340.12 L502.71,340.22 L503.30,340.32 L503.88,340.42 L504.46,340.51 L505.04,340.59 L505.63,340.67 L506.21,340.74 L506.79,340.80 L507.38,340.86 L507.96,340.91 L508.54,340.95 L509.12,340.99 L509.71,341.02 L510.29,341.05 L510.87,341.07 L511.46,341.08 L512.04,341.09 L512.62,341.09 L513.20,341.09 L513.79,341.07 L514.37,341.06 L514.95,341.03 L515.54,341.00 L516.12,340.97 L516.70,340.92 L517.28,340.87 L517.87,340.82 L518.45,340.76 L519.03,340.69 L519.62,340.62 L520.20,340.54 L520.78,340.45 L521.36,340.36 L521.95,340.26 L522.53,340.15 L523.11,340.04 L523.70,339.92 L524.28,339.80 L524.86,339.67 L525.44,339.54 L526.03,339.39 L526.61,339.25 L527.19,339.09 L527.78,338.93 L528.36,338.77 L528.94,338.60 L529.52,338.42 L530.11,338.23 L530.69,338.04 L531.27,337.85 L531.86,337.65 L532.44,337.44 L533.02,337.23 L533.60,337.01 L534.19,336.78 L534.77,336.55 L535.35,336.32 L535.94,336.07 L536.52,335.83 L537.10,335.57 L537.68,335.31 L538.27,335.05 L538.85,334.78 L539.43,334.50 L540.02,334.22 L540.60,333.93 L541.18,333.64 L541.76,333.34 L542.35,333.04 L542.93,332.73 L543.51,332.42 L544.10,332.10 L544.68,331.77 L545.26,331.44 L545.84,331.11 L546.43,330.77 L547.01,330.42 L547.59,330.07 L548.18,329.71 L548.76,329.35 L549.34,328.99 L549.92,328.62 L550.51,328.24 L551.09,327.86 L551.67,327.48 L552.26,327.09 L552.84,326.69 L553.42,326.29 L554.00,325.89 L554.59,325.48 L555.17,325.07 L555.75,324.65 L556.34,324.23 L556.92,323.80 L557.50,323.37 L558.08,322.94 L558.67,322.50 L559.25,322.05 L559.83,321.61 L560.42,321.15 L561.00,320.70 L561.58,320.24 L562.16,319.77 L562.75,319.31 L563.33,318.84 L563.91,318.36 L564.50,317.88 L565.08,317.40 L565.66,316.91 L566.24,316.42 L566.83,315.93 L567.41,315.43 L567.99,314.93 L568.58,314.42 L569.16,313.92 L569.74,313.41 L570.32,312.89 L570.91,312.38 L571.49,311.86 L572.07,311.33 L572.66,310.81 L573.24,310.28 L573.82,309.74 L574.40,309.21 L574.99,308.67 L575.57,308.13 L576.15,307.59 L576.74,307.04 L577.32,306.50 L577.90,305.94 L578.48,305.39 L579.07,304.84 L579.65,304.28 L580.23,303.72 L580.82,303.16 L581.40,302.59 L581.98,302.03 L582.56,301.46 L583.15,300.89 L583.73,300.32 L584.31,299.74 L584.90,299.17 L585.48,298.59 L586.06,298.01 L586.64,297.43 L587.23,296.85 L587.81,296.27 L588.39,295.68 L588.98,295.10 L589.56,294.51 L590.14,293.92 L590.72,293.33 L591.31,292.74 L591.89,292.15 L592.47,291.56 L593.06,290.97 L593.64,290.38 L594.22,289.78 L594.80,289.19 L595.39,288.59 L595.97,288.00 L596.55,287.40 L597.14,286.80 L597.72,286.21 L598.30,285.61 L598.88,285.01 L599.47,284.41 L600.05,283.82 L600.63,283.22 L601.22,282.62 L601.80,282.02 L602.38,281.43 L602.96,280.83 L603.55,280.23 L604.13,279.64 L604.71,279.04 L605.30,278.45 L605.88,277.85 L606.46,277.26 L607.04,276.67 L607.63,276.08 L608.21,275.48 L608.79,274.89 L609.38,274.31 L609.96,273.72 L610.54,273.13 L611.12,272.54 L611.71,271.96 L612.29,271.38 L612.87,270.80 L613.46,270.22 L614.04,269.64 L614.62,269.06 L615.20,268.48 L615.79,267.91 L616.37,267.34 L616.95,266.77 L617.54,266.20 L618.12,265.63 L618.70,265.07 L619.28,264.51 L619.87,263.95 L620.45,263.39 L621.03,262.83 L621.62,262.28 L622.20,261.73 L622.78,261.18 L623.36,260.63 L623.95,260.09 L624.53,259.55 L625.11,259.01 L625.70,258.48 L626.28,257.94 L626.86,257.42 L627.44,256.89 L628.03,256.36 L628.61,255.84 L629.19,255.33 L629.78,254.81 L630.36,254.30 L630.94,253.79 L631.52,253.29 L632.11,252.79 L632.69,252.29 L633.27,251.80 L633.86,251.30 L634.44,250.82 L635.02,250.33 L635.60,249.85 L636.19,249.38 L636.77,248.91 L637.35,248.44 L637.94,247.97 L638.52,247.51 L639.10,247.06 L639.68,246.60 L640.27,246.16 L640.85,245.71 L641.43,245.27 L642.02,244.84 L642.60,244.41 L643.18,243.98 L643.76,243.56 L644.35,243.14 L644.93,242.72 L645.51,242.32 L646.10,241.91 L646.68,241.51 L647.26,241.12 L647.84,240.73 L648.43,240.34 L649.01,239.96 L649.59,239.58 L650.18,239.21 L650.76,238.85 L651.34,238.48 L651.92,238.13 L652.51,237.78 L653.09,237.43 L653.67,237.09 L654.26,236.75 L654.84,236.42 L655.42,236.10 L656.00,235.78 L656.59,235.46 L657.17,235.15 L657.75,234.85 L658.34,234.55 L658.92,234.26 L659.50,233.97 L660.08,233.69 L660.67,233.41 L661.25,233.14 L661.83,232.87 L662.42,232.61 L663.00,232.36 L663.58,232.11 L664.16,231.87 L664.75,231.63 L665.33,231.40 L665.91,231.17 L666.50,230.95 L667.08,230.74 L667.66,230.53 L668.24,230.33 L668.83,230.13 L669.41,229.94 L669.99,229.76 L670.58,229.58 L671.16,229.41 L671.74,229.24 L672.32,229.08 L672.91,228.92 L673.49,228.78 L674.07,228.63 L674.66,228.50 L675.24,228.37 L675.82,228.24 L676.40,228.13 L676.99,228.01 L677.57,227.91 L678.15,227.81 L678.74,227.71 L679.32,227.63 L679.90,227.55 L680.48,227.47 L681.07,227.40 L681.65,227.34 L682.23,227.29 L682.82,227.24 L683.40,227.19 L683.98,227.15 L684.56,227.12 L685.15,227.10 L685.73,227.08 L686.31,227.07 L686.90,227.06 L687.48,227.06 L688.06,227.07 L688.64,227.08 L689.23,227.10 L689.81,227.13 L690.39,227.16 L690.98,227.19 L691.56,227.24 L692.14,227.29 L692.72,227.35 L693.31,227.41 L693.89,227.48 L694.47,227.55 L695.06,227.63 L695.64,227.72 L696.22,227.81 L696.80,227.91 L697.39,228.02 L697.97,228.13 L698.55,228.25 L699.14,228.38 L699.72,228.51 L700.30,228.64 L700.88,228.79 L701.47,228.93 L702.05,229.09 L702.63,229.25 L703.22,229.42 L703.80,229.59 L704.38,229.77 L704.96,229.95 L705.55,230.15 L706.13,230.34 L706.71,230.55 L707.30,230.75 L707.88,230.97 L708.46,231.19 L709.04,231.41 L709.63,231.65 L710.21,231.88 L710.79,232.13 L711.38,232.38 L711.96,232.63 L712.54,232.89 L713.12,233.16 L713.71,233.43 L714.29,233.71 L714.87,233.99 L715.46,234.28 L716.04,234.57 L716.62,234.87 L717.20,235.17 L717.79,235.48 L718.37,235.80 L718.95,236.12 L719.54,236.45 L720.12,236.78 L720.70,237.11 L721.28,237.45 L721.87,237.80 L722.45,238.15 L723.03,238.51 L723.62,238.87 L724.20,239.24 L724.78,239.61 L725.36,239.99 L725.95,240.37 L726.53,240.75 L727.11,241.14 L727.70,241.54 L728.28,241.94 L728.86,242.34 L729.44,242.75 L730.03,243.17 L730.61,243.59 L731.19,244.01 L731.78,244.44 L732.36,244.87 L732.94,245.30 L733.52,245.74 L734.11,246.19 L734.69,246.64 L735.27,247.09 L735.86,247.55 L736.44,248.01 L737.02,248.47 L737.60,248.94 L738.19,249.41 L738.77,249.89 L739.35,250.37 L739.94,250.85 L740.52,251.34 L741.10,251.83 L741.68,252.32 L742.27,252.82 L742.85,253.32 L743.43,253.83 L744.02,254.34 L744.60,254.85 L745.18,255.36 L745.76,255.88 L746.35,256.40 L746.93,256.92 L747.51,257.45 L748.10,257.98 L748.68,258.51 L749.26,259.05 L749.84,259.59 L750.43,260.13 L751.01,260.67 L751.59,261.22 L752.18,261.77 L752.76,262.32 L753.34,262.87 L753.92,263.43 L754.51,263.99 L755.09,264.55 L755.67,265.11 L756.26,265.67 L756.84,266.24 L757.42,266.81 L758.00,267.38 L758.59,267.95 L759.17,268.52 L759.75,269.10 L760.34,269.68 L760.92,270.26 L761.50,270.84 L762.08,271.42 L762.67,272.00 L763.25,272.59 L763.83,273.17 L764.42,273.76 L765.00,274.35 L765.58,274.94 L766.16,275.53 L766.75,276.12 L767.33,276.71 L767.91,277.30 L768.50,277.90 L769.08,278.49 L769.66,279.08 L770.24,279.68 L770.83,280.28 L771.41,280.87 L771.99,281.47 L772.58,282.07 L773.16,282.66 L773.74,283.26 L774.32,283.86 L774.91,284.46 L775.49,285.05 L776.07,285.65 L776.66,286.25 L777.24,286.84 L777.82,287.44 L778.40,288.04 L778.99,288.63 L779.57,289.23 L780.15,289.82 L780.74,290.42 L781.32,291.01 L781.90,291.60 L782.48,292.19 L783.07,292.79 L783.65,293.38 L784.23,293.96 L784.82,294.55 L785.40,295.14 L785.98,295.72 L786.56,296.31 L787.15,296.89 L787.73,297.47 L788.31,298.05 L788.89,298.63 L789.48,299.21 L790.06,299.78 L790.64,300.36 L791.23,300.93 L791.81,301.50 L792.39,302.07 L792.97,302.63 L793.56,303.20 L794.14,303.76 L794.72,304.32 L795.31,304.87 L795.89,305.43 L796.47,305.98 L797.05,306.53 L797.64,307.08 L798.22,307.63 L798.80,308.17 L799.39,308.71 L799.97,309.25 L800.55,309.78 L801.13,310.31 L801.72,310.84 L802.30,311.37 L802.88,311.89 L803.47,312.41 L804.05,312.93 L804.63,313.44 L805.21,313.95 L805.80,314.46 L806.38,314.96 L806.96,315.46 L807.55,315.96 L808.13,316.45 L808.71,316.94 L809.29,317.43 L809.88,317.91 L810.46,318.39 L811.04,318.87 L811.63,319.34 L812.21,319.81 L812.79,320.27 L813.37,320.73 L813.96,321.19 L814.54,321.64 L815.12,322.08 L815.71,322.53 L816.29,322.97 L816.87,323.40 L817.45,323.83 L818.04,324.26 L818.62,324.68 L819.20,325.10 L819.79,325.51 L820.37,325.92 L820.95,326.32 L821.53,326.72 L822.12,327.11 L822.70,327.50 L823.28,327.89 L823.87,328.27 L824.45,328.64 L825.03,329.01 L825.61,329.38 L826.20,329.74 L826.78,330.09 L827.36,330.44 L827.95,330.79 L828.53,331.13 L829.11,331.46 L829.69,331.79 L830.28,332.12 L830.86,332.44 L831.44,332.75 L832.03,333.06 L832.61,333.36 L833.19,333.66 L833.77,333.95 L834.36,334.24 L834.94,334.52 L835.52,334.80 L836.11,335.07 L836.69,335.33 L837.27,335.59 L837.85,335.84 L838.44,336.09 L839.02,336.33 L839.60,336.57 L840.19,336.80 L840.77,337.02 L841.35,337.24 L841.93,337.45 L842.52,337.66 L843.10,337.86 L843.68,338.06 L844.27,338.25 L844.85,338.43 L845.43,338.61 L846.01,338.78 L846.60,338.95 L847.18,339.10 L847.76,339.26 L848.35,339.40 L848.93,339.55 L849.51,339.68 L850.09,339.81 L850.68,339.93 L851.26,340.05 L851.84,340.16 L852.43,340.26 L853.01,340.36 L853.59,340.46 L854.17,340.54 L854.76,340.62 L855.34,340.69 L855.92,340.76 L856.51,340.82 L857.09,340.88 L857.67,340.93 L858.25,340.97 L858.84,341.00 L859.42,341.03 L860.00,341.06 L860.59,341.07 L861.17,341.09 L861.75,341.09 L862.33,341.09 L862.92,341.08 L863.50,341.07 L864.08,341.05 L864.67,341.02 L865.25,340.99 L865.83,340.95 L866.41,340.90 L867.00,340.85 L867.58,340.79 L868.16,340.73 L868.75,340.66 L869.33,340.58 L869.91,340.50 L870.49,340.41 L871.08,340.32 L871.66,340.22 L872.24,340.11 L872.83,340.00 L873.41,339.88 L873.99,339.75 L874.57,339.62 L875.16,339.48 L875.74,339.34 L876.32,339.19 L876.91,339.03 L877.49,338.87 L878.07,338.70 L878.65,338.53 L879.24,338.35 L879.82,338.16 L880.40,337.97 L880.99,337.77 L881.57,337.57 L882.15,337.36 L882.73,337.14 L883.32,336.92 L883.90,336.69 L884.48,336.46 L885.07,336.22 L885.65,335.98 L886.23,335.72 L886.81,335.47 L887.40,335.21 L887.98,334.94 L888.56,334.67 L889.15,334.39 L889.73,334.11 L890.31,333.82 L890.89,333.52 L891.48,333.22 L892.06,332.92 L892.64,332.60 L893.23,332.29 L893.81,331.97 L894.39,331.64 L894.97,331.31 L895.56,330.97 L896.14,330.63 L896.72,330.28 L897.31,329.93 L897.89,329.57 L898.47,329.21 L899.05,328.84 L899.64,328.47 L900.22,328.09 L900.80,327.71 L901.39,327.32 L901.97,326.93 L902.55,326.53 L903.13,326.13 L903.72,325.73 L904.30,325.32 L904.88,324.90 L905.47,324.48 L906.05,324.06 L906.63,323.63 L907.21,323.20 L907.80,322.76 L908.38,322.32 L908.96,321.88 L909.55,321.43 L910.13,320.97 L910.71,320.51 L911.29,320.05 L911.88,319.59 L912.46,319.12 L913.04,318.65 L913.63,318.17 L914.21,317.69 L914.79,317.20 L915.37,316.72 L915.96,316.22 L916.54,315.73 L917.12,315.23 L917.71,314.73 L918.29,314.22 L918.87,313.71 L919.45,313.20 L920.04,312.69 L920.62,312.17 L921.20,311.65 L921.79,311.12 L922.37,310.59 L922.95,310.06 L923.53,309.53 L924.12,308.99 L924.70,308.46 L925.28,307.91 L925.87,307.37 L926.45,306.82 L927.03,306.28 L927.61,305.72 L928.20,305.17 L928.78,304.61 L929.36,304.06 L929.95,303.49 L930.53,302.93 L931.11,302.37 L931.69,301.80 L932.28,301.23 L932.86,300.66 L933.44,300.09 L934.03,299.51 L934.61,298.94 L935.19,298.36 L935.77,297.78 L936.36,297.20 L936.94,296.62 L937.52,296.03 L938.11,295.45 L938.69,294.86 L939.27,294.28 L939.85,293.69 L940.44,293.10 L941.02,292.51 L941.60,291.92 L942.19,291.32 L942.77,290.73 L943.35,290.14 L943.93,289.54 L944.52,288.95 L945.10,288.35 L945.68,287.76 L946.27,287.16 L946.85,286.56 L947.43,285.97 L948.01,285.37 L948.60,284.77 L949.18,284.17 L949.76,283.58 L950.35,282.98 L950.93,282.38 L951.51,281.79 L952.09,281.19 L952.68,280.59 L953.26,280.00 L953.84,279.40 L954.43,278.81 L955.01,278.21 L955.59,277.62 L956.17,277.02 L956.76,276.43 L957.34,275.84 L957.92,275.25 L958.51,274.66 L959.09,274.07 L959.67,273.48 L960.25,272.90 L960.84,272.31 L961.42,271.73 L962.00,271.14 L962.59,270.56 L963.17,269.98 L963.75,269.41 L964.33,268.83 L964.92,268.25 L965.50,267.68 L966.08,267.11 L966.67,266.54 L967.25,265.97 L967.83,265.41 L968.41,264.84 L969.00,264.28 L969.58,263.72 L970.16,263.17 L970.75,262.61 L971.33,262.06 L971.91,261.51 L972.49,260.96 L973.08,260.42 L973.66,259.87 L974.24,259.33 L974.83,258.80 L975.41,258.26 L975.99,257.73 L976.57,257.20 L977.16,256.68 L977.74,256.16 L978.32,255.64 L978.91,255.12 L979.49,254.61 L980.07,254.10 L980.65,253.59 L981.24,253.09 L981.82,252.59 L982.40,252.09 L982.99,251.60 L983.57,251.11 L984.15,250.62 L984.73,250.14 L985.32,249.66 L985.90,249.19 L986.48,248.72 L987.07,248.25 L987.65,247.79 L988.23,247.33 L988.81,246.88 L989.40,246.42 L989.98,245.98 L990.56,245.54 L991.15,245.10 L991.73,244.66 L992.31,244.23 L992.89,243.81 L993.48,243.39 L994.06,242.97 L994.64,242.56 L995.23,242.15 L995.81,241.75 L996.39,241.35 L996.97,240.96 L997.56,240.57 L998.14,240.19 L998.72,239.81 L999.31,239.43 L999.89,239.06 L1000.47,238.70 L1001.05,238.34 L1001.64,237.99 L1002.22,237.64 L1002.80,237.29 L1003.39,236.95 L1003.97,236.62 L1004.55,236.29 L1005.13,235.97 L1005.72,235.65 L1006.30,235.34" stroke="#ff00ff"/>
<path d="M132.60,285.33 L133.18,284.73 L133.77,284.13 L134.35,283.54 L134.93,282.94 L135.51,282.34 L136.10,281.75 L136.68,281.15 L137.26,280.55 L137.85,279.96 L138.43,279.36 L139.01,278.77 L139.59,278.17 L140.18,277.58 L140.76,276.98 L141.34,276.39 L141.93,275.80 L142.51,275.21 L143.09,274.62 L143.67,274.03 L144.26,273.44 L144.84,272.86 L145.42,272.27 L146.01,271.69 L146.59,271.11 L147.17,270.52 L147.75,269.94 L148.34,269.37 L148.92,268.79 L149.50,268.22 L150.09,267.64 L150.67,267.07 L151.25,266.50 L151.83,265.93 L152.42,265.37 L153.00,264.81 L153.58,264.24 L154.17,263.69 L154.75,263.13 L155.33,262.57 L155.91,262.02 L156.50,261.47 L157.08,260.93 L157.66,260.38 L158.25,259.84 L158.83,259.30 L159.41,258.76 L159.99,258.23 L160.58,257.70 L161.16,257.17 L161.74,256.64 L162.33,256.12 L162.91,255.60 L163.49,255.09 L164.07,254.57 L164.66,254.06 L165.24,253.56 L165.82,253.05 L166.41,252.55 L166.99,252.06 L167.57,251.57 L168.15,251.08 L168.74,250.59 L169.32,250.11 L169.90,249.63 L170.49,249.16 L171.07,248.69 L171.65,248.22 L172.23,247.76 L172.82,247.30 L173.40,246.85 L173.98,246.39 L174.57,245.95 L175.15,245.51 L175.73,245.07 L176.31,244.63 L176.90,244.21 L177.48,243.78 L178.06,243.36 L178.65,242.94 L179.23,242.53 L179.81,242.13 L180.39,241.72 L180.98,241.33 L181.56,240.93 L182.14,240.54 L182.73,240.16 L183.31,239.78 L183.89,239.41 L184.47,239.04 L185.06,238.68 L185.64,238.32 L186.22,237.96 L186.81,237.61 L187.39,237.27 L187.97,236.93 L188.55,236.60 L189.14,236.27 L189.72,235.95 L190.30,235.63 L190.89,235.32 L191.47,235.01 L192.05,234.71 L192.63,234.41 L193.22,234.12 L193.80,233.84 L194.38,233.56 L194.97,233.28 L195.55,233.01 L196.13,232.75 L196.71,232.49 L197.30,232.24 L197.88,232.00 L198.46,231.76 L199.05,231.52 L199.63,231.29 L200.21,231.07 L200.79,230.85 L201.38,230.64 L201.96,230.44 L202.54,230.24 L203.13,230.04 L203.71,229.85 L204.29,229.67 L204.87,229.50 L205.46,229.33 L206.04,229.16 L206.62,229.01 L207.21,228.85 L207.79,228.71 L208.37,228.57 L208.95,228.44 L209.54,228.31 L210.12,228.19 L210.70,228.07 L211.29,227.96 L211.87,227.86 L212.45,227.76 L213.03,227.67 L213.62,227.59 L214.20,227.51 L214.78,227.44 L215.37,227.37 L215.95,227.31 L216.53,227.26 L217.11,227.21 L217.70,227.17 L218.28,227.14 L218.86,227.11 L219.45,227.09 L220.03,227.07 L220.61,227.06 L221.19,227.06 L221.78,227.06 L222.36,227.07 L222.94,227.09 L223.53,227.11 L224.11,227.14 L224.69,227.17 L225.27,227.21 L225.86,227.26 L226.44,227.31 L227.02,227.37 L227.61,227.44 L228.19,227.51 L228.77,227.59 L229.35,227.67 L229.94,227.76 L230.52,227.86 L231.10,227.96 L231.69,228.07 L232.27,228.19 L232.85,228.31 L233.43,228.44 L234.02,228.57 L234.60,228.71 L235.18,228.85 L235.77,229.01 L236.35,229.16 L236.93,229.33 L237.51,229.50 L238.10,229.67 L238.68,229.86 L239.26,230.04 L239.85,230.24 L240.43,230.44 L241.01,230.64 L241.59,230.85 L242.18,231.07 L242.76,231.29 L243.34,231.52 L243.93,231.76 L244.51,232.00 L245.09,232.24 L245.67,232.49 L246.26,232.75 L246.84,233.02 L247.42,233.28 L248.01,233.56 L248.59,233.84 L249.17,234.12 L249.75,234.41 L250.34,234.71 L250.92,235.01 L251.50,235.32 L252.09,235.63 L252.67,235.95 L253.25,236.27 L253.83,236.60 L254.42,236.93 L255.00,237.27 L255.58,237.62 L256.17,237.96 L256.75,238.32 L257.33,238.68 L257.91,239.04 L258.50,239.41 L259.08,239.78 L259.66,240.16 L260.25,240.55 L260.83,240.93 L261.41,241.33 L261.99,241.72 L262.58,242.13 L263.16,242.53 L263.74,242.95 L264.33,243.36 L264.91,243.78 L265.49,244.21 L266.07,244.64 L266.66,245.07 L267.24,245.51 L267.82,245.95 L268.41,246.40 L268.99,246.85 L269.57,247.30 L270.15,247.76 L270.74,248.22 L271.32,248.69 L271.90,249.16 L272.49,249.63 L273.07,250.11 L273.65,250.59 L274.23,251.08 L274.82,251.57 L275.40,252.06 L275.98,252.56 L276.57,253.06 L277.15,253.56 L277.73,254.07 L278.31,254.57 L278.90,255.09 L279.48,255.60 L280.06,256.12 L280.65,256.65 L281.23,257.17 L281.81,257.70 L282.39,258.23 L282.98,258.76 L283.56,259.30 L284.14,259.84 L284.73,260.38 L285.31,260.93 L285.89,261.47 L286.47,262.02 L287.06,262.58 L287.64,263.13 L288.22,263.69 L288.81,264.25 L289.39,264.81 L289.97,265.37 L290.55,265.94 L291.14,266.50 L291.72,267.07 L292.30,267.64 L292.89,268.22 L293.47,268.79 L294.05,269.37 L294.63,269.95 L295.22,270.53 L295.80,271.11 L296.38,271.69 L296.97,272.27 L297.55,272.86 L298.13,273.44 L298.71,274.03 L299.30,274.62 L299.88,275.21 L300.46,275.80 L301.05,276.39 L301.63,276.99 L302.21,277.58 L302.79,278.17 L303.38,278.77 L303.96,279.36 L304.54,279.96 L305.13,280.55 L305.71,281.15 L306.29,281.75 L306.87,282.34 L307.46,282.94 L308.04,283.54 L308.62,284.14 L309.21,284.73 L309.79,285.33 L310.37,285.93 L310.95,286.53 L311.54,287.12 L312.12,287.72 L312.70,288.31 L313.29,288.91 L313.87,289.51 L314.45,290.10 L315.03,290.69 L315.62,291.29 L316.20,291.88 L316.78,292.47 L317.37,293.06 L317.95,293.65 L318.53,294.24 L319.11,294.83 L319.70,295.41 L320.28,296.00 L320.86,296.58 L321.45,297.16 L322.03,297.74 L322.61,298.32 L323.19,298.90 L323.78,299.48 L324.36,300.05 L324.94,300.62 L325.53,301.19 L326.11,301.76 L326.69,302.33 L327.27,302.90 L327.86,303.46 L328.44,304.02 L329.02,304.58 L329.61,305.13 L330.19,305.69 L330.77,306.24 L331.35,306.79 L331.94,307.34 L332.52,307.88 L333.10,308.42 L333.69,308.96 L334.27,309.50 L334.85,310.03 L335.43,310.56 L336.02,311.09 L336.60,311.61 L337.18,312.13 L337.77,312.65 L338.35,313.17 L338.93,313.68 L339.51,314.19 L340.10,314.70 L340.68,315.20 L341.26,315.70 L341.85,316.19 L342.43,316.68 L343.01,317.17 L343.59,317.66 L344.18,318.14 L344.76,318.62 L345.34,319.09 L345.93,319.56 L346.51,320.02 L347.09,320.49 L347.67,320.94 L348.26,321.40 L348.84,321.85 L349.42,322.29 L350.01,322.73 L350.59,323.17 L351.17,323.60 L351.75,324.03 L352.34,324.46 L352.92,324.88 L353.50,325.29 L354.08,325.70 L354.67,326.11 L355.25,326.51 L355.83,326.90 L356.42,327.30 L357.00,327.68 L357.58,328.07 L358.16,328.44 L358.75,328.82 L359.33,329.18 L359.91,329.55 L360.50,329.91 L361.08,330.26 L361.66,330.61 L362.24,330.95 L362.83,331.29 L363.41,331.62 L363.99,331.95 L364.58,332.27 L365.16,332.58 L365.74,332.90 L366.32,333.20 L366.91,333.50 L367.49,333.80 L368.07,334.09 L368.66,334.37 L369.24,334.65 L369.82,334.92 L370.40,335.19 L370.99,335.45 L371.57,335.71 L372.15,335.96 L372.74,336.20 L373.32,336.44 L373.90,336.68 L374.48,336.90 L375.07,337.13 L375.65,337.34 L376.23,337.55 L376.82,337.76 L377.40,337.95 L377.98,338.15 L378.56,338.33 L379.15,338.51 L379.73,338.69 L380.31,338.86 L380.90,339.02 L381.48,339.18 L382.06,339.33 L382.64,339.47 L383.23,339.61 L383.81,339.74 L384.39,339.87 L384.98,339.99 L385.56,340.10 L386.14,340.21 L386.72,340.31 L387.31,340.41 L387.89,340.50 L388.47,340.58 L389.06,340.66 L389.64,340.73 L390.22,340.79 L390.80,340.85 L391.39,340.90 L391.97,340.95 L392.55,340.99 L393.14,341.02 L393.72,341.05 L394.30,341.07 L394.88,341.08 L395.47,341.09 L396.05,341.09 L396.63,341.09 L397.22,341.08 L397.80,341.06 L398.38,341.04 L398.96,341.01 L399.55,340.97 L400.13,340.93 L400.71,340.88 L401.30,340.83 L401.88,340.77 L402.46,340.70 L403.04,340.63 L403.63,340.55 L404.21,340.46 L404.34,340.44 L404.79,339.63 L405.38,336.59 L405.46,336.02 L405.96,318.34 L406.40,305.25 L406.54,305.30 L407.12,306.40 L407.71,308.43 L408.29,310.73 L408.69,312.13 L408.87,312.72 L409.46,314.79 L410.04,316.88 L410.62,318.69 L411.00,319.55 L411.20,319.93 L411.79,320.88 L412.37,321.68 L412.95,322.37 L413.54,323.01 L414.12,323.63 L414.70,324.27 L415.00,324.62 L415.28,324.98 L415.87,325.76 L416.45,326.56 L417.03,327.35 L417.62,328.08 L418.20,328.71 L418.78,329.19 L419.00,329.33 L419.36,329.53 L419.95,329.84 L420.53,330.14 L421.11,330.41 L421.70,330.66 L422.28,330.87 L422.86,331.05 L423.44,331.19 L424.03,331.28 L424.61,331.32 L424.70,331.32 L425.19,331.30 L425.78,331.24 L426.36,331.13 L426.94,331.00 L427.52,330.84 L428.11,330.66 L428.69,330.47 L429.27,330.27 L429.86,330.08 L430.44,329.89 L430.50,329.87 L431.02,329.70 L431.60,329.50 L432.19,329.29 L432.77,329.07 L433.35,328.84 L433.94,328.60 L434.52,328.34 L435.10,328.07 L435.68,327.80 L436.27,327.51 L436.85,327.21 L437.29,326.97 L437.43,326.90 L438.02,326.57 L438.60,326.21 L439.18,325.84 L439.76,325.45 L440.35,325.03 L440.93,324.60 L441.51,324.16 L442.10,323.69 L442.68,323.21 L443.26,322.72 L443.84,322.22 L444.20,321.91 L444.43,321.70 L445.01,321.19 L445.59,320.68 L446.18,320.17 L446.76,319.66 L447.34,319.15 L447.92,318.64 L448.51,318.13 L449.09,317.61 L449.67,317.10 L450.26,316.59 L450.84,316.07 L451.42,315.56 L452.00,315.04 L452.59,314.53 L453.17,314.01 L453.75,313.49 L454.34,312.98 L454.92,312.46 L455.50,311.94 L456.08,311.41 L456.67,310.89 L457.25,310.37 L457.83,309.84 L458.42,309.32 L459.00,308.79 L459.58,308.26 L460.16,307.73 L460.75,307.20 L461.33,306.67 L461.91,306.14 L462.50,305.60 L463.08,305.07 L463.66,304.53 L464.24,303.99 L464.83,303.45 L465.41,302.92 L465.99,302.37 L466.58,301.83 L467.16,301.29 L467.74,300.75 L468.32,300.20 L468.91,299.66 L469.49,299.11 L470.07,298.56 L470.66,298.01 L471.24,297.46 L471.82,296.91 L472.40,296.36 L472.99,295.81 L473.57,295.26 L474.15,294.71 L474.74,294.15 L475.32,293.60 L475.90,293.04 L476.48,292.49 L477.07,291.93 L477.65,291.38 L478.23,290.82 L478.82,290.26 L479.40,289.71 L479.98,289.15 L480.56,288.59 L481.15,288.03 L481.73,287.48 L482.31,286.92 L482.90,286.36 L483.48,285.80 L484.06,285.24 L484.64,284.69 L485.23,284.13 L485.81,283.57 L486.39,283.01 L486.98,282.46 L487.56,281.90 L488.14,281.35 L488.72,280.79 L489.31,280.24 L489.89,279.68 L490.47,279.13 L491.06,278.58 L491.64,278.02 L492.22,277.47 L492.80,276.92 L493.39,276.37 L493.97,275.83 L494.55,275.28 L495.14,274.73 L495.72,274.19 L496.30,273.64 L496.88,273.10 L497.47,272.56 L498.05,272.02 L498.63,271.48 L499.22,270.94 L499.80,270.41 L500.38,269.88 L500.96,269.34 L501.55,268.81 L502.13,268.28 L502.71,267.76 L503.30,267.23 L503.88,266.71 L504.46,266.19 L505.04,265.67 L505.63,265.15 L506.21,264.64 L506.79,264.13 L507.38,263.62 L507.96,263.11 L508.54,262.60 L509.12,262.10 L509.71,261.60 L510.29,261.10 L510.87,260.60 L511.46,260.11 L512.04,259.62 L512.62,259.13 L513.20,258.65 L513.79,258.17 L514.37,257.69 L514.95,257.21 L515.54,256.74 L516.12,256.27 L516.70,255.80 L517.28,255.34 L517.87,254.87 L518.45,254.42 L519.03,253.96 L519.62,253.51 L520.20,253.06 L520.78,252.62 L521.36,252.18 L521.95,251.74 L522.53,251.31 L523.11,250.88 L523.70,250.45 L524.28,250.03 L524.86,249.61 L525.44,249.20 L526.03,248.79 L526.61,248.38 L527.19,247.98 L527.78,247.58 L528.36,247.18 L528.94,246.79 L529.52,246.40 L530.11,246.02 L530.69,245.64 L531.27,245.27 L531.86,244.90 L532.44,244.53 L533.02,244.17 L533.60,243.81 L534.19,243.46 L534.77,243.11 L535.35,242.77 L535.94,242.43 L536.52,242.10 L537.10,241.77 L537.68,241.44 L538.27,241.12 L538.85,240.80 L539.43,240.49 L540.02,240.19 L540.60,239.89 L541.18,239.59 L541.76,239.30 L542.35,239.01 L542.93,238.73 L543.51,238.45 L544.10,238.18 L544.68,237.91 L545.26,237.65 L545.84,237.40 L546.43,237.14 L547.01,236.90 L547.59,236.66 L548.18,236.42 L548.76,236.19 L549.34,235.97 L549.92,235.75 L550.51,235.53 L551.09,235.32 L551.67,235.12 L552.26,234.92 L552.84,234.73 L553.42,234.54 L554.00,234.36 L554.59,234.18 L555.17,234.01 L555.75,233.84 L556.34,233.68 L556.92,233.53 L557.50,233.38 L558.08,233.24 L558.67,233.10 L559.25,232.97 L559.83,232.84 L560.42,232.72 L561.00,232.60 L561.58,232.49 L562.16,232.39 L562.75,232.29 L563.33,232.20 L563.91,232.11 L564.50,232.03 L565.08,231.95 L565.66,231.88 L566.24,231.82 L566.83,231.76 L567.41,231.71 L567.99,231.66 L568.58,231.62 L569.16,231.59 L569.74,231.56 L570.32,231.53 L570.91,231.52 L571.49,231.50 L572.07,231.50 L572.66,231.50 L573.24,231.50 L573.82,231.51 L574.40,231.53 L574.99,231.55 L575.57,231.58 L576.15,231.61 L576.74,231.65 L577.32,231.70 L577.90,231.75 L578.48,231.81 L579.07,231.87 L579.65,231.94 L580.23,232.01 L580.82,232.09 L581.40,232.18 L581.98,232.27 L582.56,232.37 L583.15,232.47 L583.73,232.58 L584.31,232.69 L584.90,232.81 L585.48,232.94 L586.06,233.07 L586.64,233.21 L587.23,233.35 L587.81,233.50 L588.39,233.65 L588.98,233.81 L589.56,233.98 L590.14,234.15 L590.72,234.32 L591.31,234.50 L591.89,234.69 L592.47,234.88 L593.06,235.08 L593.64,235.28 L594.22,235.49 L594.80,235.70 L595.39,235.92 L595.97,236.15 L596.55,236.38 L597.14,236.61 L597.72,236.85 L598.30,237.10 L598.88,237.35 L599.47,237.60 L600.05,237.86 L600.63,238.13 L601.22,238.40 L601.80,238.67 L602.38,238.95 L602.96,239.24 L603.55,239.53 L604.13,239.83 L604.71,240.13 L605.30,240.43 L605.88,240.74 L606.46,241.06 L607.04,241.37 L607.63,241.70 L608.21,242.03 L608.79,242.36 L609.38,242.70 L609.96,243.04 L610.54,243.39 L611.12,243.74 L611.71,244.10 L612.29,244.46 L612.87,244.82 L613.46,245.19 L614.04,245.56 L614.62,245.94 L615.20,246.32 L615.79,246.71 L616.37,247.10 L616.95,247.49 L617.54,247.89 L618.12,248.29 L618.70,248.70 L619.28,249.11 L619.87,249.52 L620.45,249.94 L621.03,250.36 L621.62,250.79 L622.20,251.22 L622.78,251.65 L623.36,252.09 L623.95,252.53 L624.53,252.97 L625.11,253.41 L625.70,253.86 L626.28,254.32 L626.86,254.77 L627.44,255.23 L628.03,255.70 L628.61,256.16 L629.19,256.63 L629.78,257.10 L630.36,257.58 L630.94,258.06 L631.52,258.54 L632.11,259.02 L632.69,259.51 L633.27,260.00 L633.86,260.49 L634.44,260.98 L635.02,261.48 L635.60,261.98 L636.19,262.48 L636.77,262.98 L637.35,263.49 L637.94,264.00 L638.52,264.51 L639.10,265.02 L639.68,265.54 L640.27,266.06 L640.85,266.58 L641.43,267.10 L642.02,267.62 L642.60,268.14 L643.18,268.67 L643.76,269.20 L644.35,269.73 L644.93,270.26 L645.51,270.79 L646.10,271.33 L646.68,271.86 L647.26,272.40 L647.84,272.94 L648.43,273.48 L649.01,274.02 L649.59,274.56 L650.18,275.11 L650.76,275.65 L651.34,276.20 L651.92,276.74 L652.51,277.29 L653.09,277.84 L653.67,278.38 L654.26,278.93 L654.84,279.48 L655.42,280.03 L656.00,280.58 L656.59,281.13 L657.17,281.69 L657.75,282.24 L658.34,282.79 L658.92,283.34 L659.50,283.89 L660.08,284.44 L660.67,285.00 L661.25,285.55 L661.83,286.10 L662.42,286.65 L663.00,287.20 L663.58,287.75 L664.16,288.30 L664.75,288.85 L665.33,289.40 L665.91,289.95 L666.50,290.50 L667.08,291.05 L667.66,291.59 L668.24,292.14 L668.83,292.69 L669.41,293.23 L669.99,293.77 L670.58,294.32 L671.16,294.86 L671.74,295.40 L672.32,295.93 L672.91,296.47 L673.49,297.01 L674.07,297.54 L674.66,298.08 L675.24,298.61 L675.82,299.14 L676.40,299.67 L676.99,300.19 L677.57,300.72 L678.15,301.24 L678.74,301.76 L679.32,302.28 L679.90,302.80 L680.48,303.31 L681.07,303.83 L681.65,304.34 L682.23,304.85 L682.82,305.35 L683.40,305.86 L683.98,306.36 L684.56,306.86 L685.15,307.35 L685.73,307.85 L686.31,308.34 L686.90,308.83 L687.48,309.32 L688.06,309.80 L688.64,310.28 L689.23,310.76 L689.81,311.23 L690.39,311.71 L690.98,312.17 L691.56,312.64 L692.14,313.10 L692.72,313.56 L693.31,314.02 L693.89,314.47 L694.47,314.92 L695.06,315.37 L695.64,315.81 L696.22,316.25 L696.80,316.69 L697.39,317.12 L697.97,317.55 L698.55,317.97 L699.14,318.39 L699.72,318.81 L700.30,319.23 L700.88,319.64 L701.47,320.04 L702.05,320.44 L702.63,320.84 L703.22,321.24 L703.80,321.63 L704.38,322.01 L704.96,322.39 L705.55,322.77 L706.13,323.14 L706.71,323.51 L707.30,323.88 L707.88,324.24 L708.46,324.59 L709.04,324.95 L709.63,325.29 L710.21,325.64 L710.79,325.97 L711.38,326.31 L711.96,326.64 L712.54,326.96 L713.12,327.28 L713.71,327.59 L714.29,327.90 L714.87,328.21 L715.46,328.51 L716.04,328.81 L716.62,329.10 L717.20,329.38 L717.79,329.66 L718.37,329.94 L718.95,330.21 L719.54,330.47 L720.12,330.73 L720.70,330.99 L721.28,331.24 L721.87,331.48 L722.45,331.72 L723.03,331.96 L723.62,332.19 L724.20,332.41 L724.78,332.63 L725.36,332.84 L725.95,333.05 L726.53,333.26 L727.11,333.45 L727.70,333.64 L728.28,333.83 L728.86,334.01 L729.44,334.19 L730.03,334.36 L730.61,334.52 L731.19,334.68 L731.78,334.84 L732.36,334.98 L732.94,335.13 L733.52,335.26 L734.11,335.39 L734.69,335.52 L735.27,335.64 L735.86,335.75 L736.44,335.86 L737.02,335.96 L737.60,336.06 L738.19,336.15 L738.77,336.24 L739.35,336.32 L739.94,336.39 L740.52,336.46 L741.10,336.53 L741.68,336.58 L742.27,336.63 L742.85,336.68 L743.43,336.72 L744.02,336.75 L744.60,336.78 L745.18,336.80 L745.76,336.82 L746.35,336.83 L746.93,336.84 L747.51,336.84 L748.10,336.83 L748.68,336.82 L749.26,336.80 L749.84,336.78 L750.43,336.75 L751.01,336.71 L751.59,336.67 L752.18,336.62 L752.76,336.57 L753.34,336.51 L753.92,336.45 L754.51,336.38 L755.09,336.30 L755.67,336.22 L756.26,336.13 L756.84,336.04 L757.42,335.94 L758.00,335.84 L758.59,335.73 L759.17,335.61 L759.75,335.49 L760.34,335.37 L760.92,335.23 L761.50,335.10 L762.08,334.95 L762.67,334.80 L763.25,334.65 L763.83,334.49 L764.42,334.32 L765.00,334.15 L765.58,333.98 L766.16,333.79 L766.75,333.61 L767.33,333.41 L767.91,333.21 L768.50,333.01 L769.08,332.80 L769.66,332.59 L770.24,332.37 L770.83,332.14 L771.41,331.91 L771.99,331.68 L772.58,331.43 L773.16,331.19 L773.74,330.94 L774.32,330.68 L774.91,330.42 L775.49,330.15 L776.07,329.88 L776.66,329.60 L777.24,329.32 L777.82,329.04 L778.40,328.74 L778.99,328.45 L779.57,328.15 L780.15,327.84 L780.74,327.53 L781.32,327.21 L781.90,326.89 L782.48,326.57 L783.07,326.24 L783.65,325.90 L784.23,325.57 L784.82,325.22 L785.40,324.87 L785.98,324.52 L786.56,324.16 L787.15,323.80 L787.73,323.44 L788.31,323.07 L788.89,322.69 L789.48,322.31 L790.06,321.93 L790.64,321.55 L791.23,321.15 L791.81,320.76 L792.39,320.36 L792.97,319.96 L793.56,319.55 L794.14,319.14 L794.72,318.73 L795.31,318.31 L795.89,317.88 L796.47,317.46 L797.05,317.03 L797.64,316.60 L798.22,316.16 L798.80,315.72 L799.39,315.28 L799.97,314.83 L800.55,314.38 L801.13,313.92 L801.72,313.47 L802.30,313.01 L802.88,312.54 L803.47,312.08 L804.05,311.61 L804.63,311.14 L805.21,310.66 L805.80,310.18 L806.38,309.70 L806.96,309.22 L807.55,308.73 L808.13,308.24 L808.71,307.75 L809.29,307.25 L809.88,306.75 L810.46,306.25 L811.04,305.75 L811.63,305.25 L812.21,304.74 L812.79,304.23 L813.37,303.72 L813.96,303.21 L814.54,302.69 L815.12,302.17 L815.71,301.65 L816.29,301.13 L816.87,300.61 L817.45,300.08 L818.04,299.56 L818.62,299.03 L819.20,298.50 L819.79,297.97 L820.37,297.43 L820.95,296.90 L821.53,296.36 L822.12,295.82 L822.70,295.28 L823.28,294.74 L823.87,294.20 L824.45,293.66 L825.03,293.12 L825.61,292.57 L826.20,292.03 L826.78,291.48 L827.36,290.93 L827.95,290.39 L828.53,289.84 L829.11,289.29 L829.69,288.74 L830.28,288.19 L830.86,287.64 L831.44,287.09 L832.03,286.54 L832.61,285.99 L833.19,285.43 L833.77,284.88 L834.36,284.33 L834.94,283.78 L835.52,283.23 L836.11,282.67 L836.69,282.12 L837.27,281.57 L837.85,281.02 L838.44,280.47 L839.02,279.92 L839.60,279.37 L840.19,278.82 L840.77,278.27 L841.35,277.72 L841.93,277.18 L842.52,276.63 L843.10,276.08 L843.68,275.54 L844.27,274.99 L844.85,274.45 L845.43,273.91 L846.01,273.37 L846.60,272.83 L847.18,272.29 L847.76,271.75 L848.35,271.22 L848.93,270.68 L849.51,270.15 L850.09,269.62 L850.68,269.09 L851.26,268.56 L851.84,268.04 L852.43,267.51 L853.01,266.99 L853.59,266.47 L854.17,265.95 L854.76,265.43 L855.34,264.92 L855.92,264.40 L856.51,263.89 L857.09,263.39 L857.67,262.88 L858.25,262.38 L858.84,261.87 L859.42,261.38 L860.00,260.88 L860.59,260.39 L861.17,259.89 L861.75,259.41 L862.33,258.92 L862.92,258.44 L863.50,257.96 L864.08,257.48 L864.67,257.01 L865.25,256.53 L865.83,256.07 L866.41,255.60 L867.00,255.14 L867.58,254.68 L868.16,254.22 L868.75,253.77 L869.33,253.32 L869.91,252.88 L870.49,252.43 L871.08,252.00 L871.66,251.56 L872.24,251.13 L872.83,250.70 L873.41,250.28 L873.99,249.86 L874.57,249.44 L875.16,249.03 L875.74,248.62 L876.32,248.21 L876.91,247.81 L877.49,247.41 L878.07,247.02 L878.65,246.63 L879.24,246.24 L879.82,245.86 L880.40,245.48 L880.99,245.11 L881.57,244.74 L882.15,244.37 L882.73,244.01 L883.32,243.66 L883.90,243.30 L884.48,242.96 L885.07,242.61 L885.65,242.27 L886.23,241.94 L886.81,241.61 L887.40,241.28 L887.98,240.96 L888.56,240.64 L889.15,240.33 L889.73,240.03 L890.31,239.72 L890.89,239.43 L891.48,239.13 L892.06,238.84 L892.64,238.56 L893.23,238.28 L893.81,238.01 L894.39,237.74 L894.97,237.48 L895.56,237.22 L896.14,236.97 L896.72,236.72 L897.31,236.47 L897.89,236.24 L898.47,236.00 L899.05,235.77 L899.64,235.55 L900.22,235.33 L900.80,235.12 L901.39,234.92 L901.97,234.71 L902.55,234.52 L903.13,234.33 L903.72,234.14 L904.30,233.96 L904.88,233.78 L905.47,233.61 L906.05,233.45 L906.63,233.29 L907.21,233.14 L907.80,232.99 L908.38,232.85 L908.96,232.71 L909.55,232.58 L910.13,232.45 L910.71,232.33 L911.29,232.22 L911.88,232.11 L912.46,232.00 L913.04,231.91 L913.63,231.81 L914.21,231.73 L914.79,231.64 L915.37,231.57 L915.96,231.50 L916.54,231.43 L917.12,231.38 L917.71,231.32 L918.29,231.27 L918.87,231.23 L919.45,231.20 L920.04,231.17 L920.62,231.14 L921.20,231.12 L921.79,231.11 L922.37,231.10 L922.95,231.10 L923.53,231.10 L924.12,231.11 L924.70,231.12 L925.28,231.14 L925.87,231.17 L926.45,231.20 L927.03,231.24 L927.61,231.28 L928.20,231.33 L928.78,231.38 L929.36,231.44 L929.95,231.51 L930.53,231.58 L931.11,231.66 L931.69,231.74 L932.28,231.83 L932.86,231.92 L933.44,232.02 L934.03,232.12 L934.61,232.23 L935.19,232.35 L935.77,232.47 L936.36,232.60 L936.94,232.73 L937.52,232.86 L938.11,233.01 L938.69,233.16 L939.27,233.31 L939.85,233.47 L940.44,233.63 L941.02,233.80 L941.60,233.98 L942.19,234.16 L942.77,234.34 L943.35,234.53 L943.93,234.73 L944.52,234.93 L945.10,235.14 L945.68,235.35 L946.27,235.57 L946.85,235.79 L947.43,236.01 L948.01,236.25 L948.60,236.48 L949.18,236.73 L949.76,236.97 L950.35,237.22 L950.93,237.48 L951.51,237.74 L952.09,238.01 L952.68,238.28 L953.26,238.56 L953.84,238.84 L954.43,239.12 L955.01,239.41 L955.59,239.71 L956.17,240.01 L956.76,240.31 L957.34,240.62 L957.92,240.94 L958.51,241.25 L959.09,241.58 L959.67,241.90 L960.25,242.23 L960.84,242.57 L961.42,242.91 L962.00,243.25 L962.59,243.60 L963.17,243.95 L963.75,244.31 L964.33,244.67 L964.92,245.04 L965.50,245.41 L966.08,245.78 L966.67,246.16 L967.25,246.54 L967.83,246.92 L968.41,247.31 L969.00,247.70 L969.58,248.10 L970.16,248.50 L970.75,248.90 L971.33,249.31 L971.91,249.72 L972.49,250.13 L973.08,250.55 L973.66,250.97 L974.24,251.39 L974.83,251.82 L975.41,252.25 L975.99,252.68 L976.57,253.12 L977.16,253.56 L977.74,254.00 L978.32,254.45 L978.91,254.89 L979.49,255.35 L980.07,255.80 L980.65,256.26 L981.24,256.72 L981.82,257.18 L982.40,257.64 L982.99,258.11 L983.57,258.58 L984.15,259.06 L984.73,259.53 L985.32,260.01 L985.90,260.49 L986.48,260.97 L987.07,261.45 L987.65,261.94 L988.23,262.43 L988.81,262.92 L989.40,263.41 L989.98,263.90 L990.56,264.40 L991.15,264.90 L991.73,265.40 L992.31,265.90 L992.89,266.40 L993.48,266.91 L994.06,267.41 L994.64,267.92 L995.23,268.43 L995.81,268.94 L996.39,269.45 L996.97,269.96 L997.56,270.48 L998.14,270.99 L998.72,271.51 L999.31,272.02 L999.89,272.54 L1000.47,273.06 L1001.05,273.58 L1001.64,274.10 L1002.22,274.62 L1002.80,275.14 L1003.39,275.66 L1003.97,276.18 L1004.55,276.71 L1005.13,277.23 L1005.72,277.75 L1006.30,278.28" stroke="#0a1a8c"/>
<path d="M132.60,83.25 L133.18,83.25 L133.77,83.25 L134.35,83.25 L134.93,83.25 L135.51,83.25 L136.10,83.25 L136.68,83.25 L137.26,83.25 L137.85,83.25 L138.43,83.25 L139.01,83.25 L139.59,83.25 L140.18,83.25 L140.76,83.25 L141.34,83.25 L141.93,83.25 L142.51,83.25 L143.09,83.25 L143.67,83.25 L144.26,83.25 L144.84,83.25 L145.42,83.25 L146.01,83.25 L146.59,83.25 L147.17,83.25 L147.75,83.25 L148.34,83.25 L148.92,83.25 L149.50,83.25 L150.09,83.25 L150.67,83.25 L151.25,83.25 L151.83,83.25 L152.42,83.25 L153.00,83.25 L153.58,83.25 L154.17,83.25 L154.75,83.25 L155.33,83.25 L155.91,83.25 L156.50,83.25 L157.08,83.25 L157.66,83.25 L158.25,83.25 L158.83,83.25 L159.41,83.25 L159.99,83.25 L160.58,83.25 L161.16,83.25 L161.74,83.25 L162.33,83.25 L162.91,83.25 L163.49,83.25 L164.07,83.25 L164.66,83.25 L165.24,83.25 L165.82,83.25 L166.41,83.25 L166.99,83.25 L167.57,83.25 L168.15,83.25 L168.74,83.25 L169.32,83.25 L169.90,83.25 L170.49,83.25 L171.07,83.25 L171.65,83.25 L172.23,83.25 L172.82,83.25 L173.40,83.25 L173.98,83.25 L174.57,83.25 L175.15,83.25 L175.73,83.25 L176.31,83.25 L176.90,83.25 L177.48,83.25 L178.06,83.25 L178.65,83.25 L179.23,83.25 L179.81,83.25 L180.39,83.25 L180.98,83.25 L181.56,83.25 L182.14,83.25 L182.73,83.25 L183.31,83.25 L183.89,83.25 L184.47,83.25 L185.06,83.25 L185.64,83.25 L186.22,83.25 L186.81,83.25 L187.39,83.25 L187.97,83.25 L188.55,83.25 L189.14,83.25 L189.72,83.25 L190.30,83.25 L190.89,83.25 L191.47,83.25 L192.05,83.25 L192.63,83.25 L193.22,83.25 L193.80,83.25 L194.38,83.25 L194.97,83.25 L195.55,83.25 L196.13,83.25 L196.71,83.25 L197.30,83.25 L197.88,83.25 L198.46,83.25 L199.05,83.25 L199.63,83.25 L200.21,83.25 L200.79,83.25 L201.38,83.25 L201.96,83.25 L202.54,83.25 L203.13,83.25 L203.71,83.25 L204.29,83.25 L204.87,83.25 L205.46,83.25 L206.04,83.25 L206.62,83.25 L207.21,83.25 L207.79,83.25 L208.37,83.25 L208.95,83.25 L209.54,83.25 L210.12,83.25 L210.70,83.25 L211.29,83.25 L211.87,83.25 L212.45,83.25 L213.03,83.25 L213.62,83.25 L214.20,83.25 L214.78,83.25 L215.37,83.25 L215.95,83.25 L216.53,83.25 L217.11,83.25 L217.70,83.25 L218.28,83.25 L218.86,83.25 L219.45,83.25 L220.03,83.25 L220.61,83.25 L221.19,83.25 L221.78,83.25 L222.36,83.25 L222.94,83.25 L223.53,83.25 L224.11,83.25 L224.69,83.25 L225.27,83.25 L225.86,83.25 L226.44,83.25 L227.02,83.25 L227.61,83.25 L228.19,83.25 L228.77,83.25 L229.35,83.25 L229.94,83.25 L230.52,83.25 L231.10,83.25 L231.69,83.25 L232.27,83.25 L232.85,83.25 L233.43,83.25 L234.02,83.25 L234.60,83.25 L235.18,83.25 L235.77,83.25 L236.35,83.25 L236.93,83.25 L237.51,83.25 L238.10,83.25 L238.68,83.25 L239.26,83.25 L239.85,83.25 L240.43,83.25 L241.01,83.25 L241.59,83.25 L242.18,83.25 L242.76,83.25 L243.34,83.25 L243.93,83.25 L244.51,83.25 L245.09,83.25 L245.67,83.25 L246.26,83.25 L246.84,83.25 L247.42,83.25 L248.01,83.25 L248.59,83.25 L249.17,83.25 L249.75,83.25 L250.34,83.25 L250.92,83.25 L251.50,83.25 L252.09,83.25 L252.67,83.25 L253.25,83.25 L253.83,83.25 L254.42,83.25 L255.00,83.25 L255.58,83.25 L256.17,83.25 L256.75,83.25 L257.33,83.25 L257.91,83.25 L258.50,83.25 L259.08,83.25 L259.66,83.25 L260.25,83.25 L260.83,83.25 L261.41,83.25 L261.99,83.25 L262.58,83.25 L263.16,83.25 L263.74,83.25 L264.33,83.25 L264.91,83.25 L265.49,83.25 L266.07,83.25 L266.66,83.25 L267.24,83.25 L267.82,83.25 L268.41,83.25 L268.99,83.25 L269.57,83.25 L270.15,83.25 L270.74,83.25 L271.32,83.25 L271.90,83.25 L272.49,83.25 L273.07,83.25 L273.65,83.25 L274.23,83.25 L274.82,83.25 L275.40,83.25 L275.98,83.25 L276.57,83.25 L277.15,83.25 L277.73,83.25 L278.31,83.25 L278.90,83.25 L279.48,83.25 L280.06,83.25 L280.65,83.25 L281.23,83.25 L281.81,83.25 L282.39,83.25 L282.98,83.25 L283.56,83.25 L284.14,83.25 L284.73,83.25 L285.31,83.25 L285.89,83.25 L286.47,83.25 L287.06,83.25 L287.64,83.25 L288.22,83.25 L288.81,83.25 L289.39,83.25 L289.97,83.25 L290.55,83.25 L291.14,83.25 L291.72,83.25 L292.30,83.25 L292.89,83.25 L293.47,83.25 L294.05,83.25 L294.63,83.25 L295.22,83.25 L295.80,83.25 L296.38,83.25 L296.97,83.25 L297.55,83.25 L298.13,83.25 L298.71,83.25 L299.30,83.25 L299.88,83.25 L300.46,83.25 L301.05,83.25 L301.63,83.25 L302.21,83.25 L302.79,83.25 L303.38,83.25 L303.96,83.25 L304.54,83.25 L305.13,83.25 L305.71,83.25 L306.29,83.25 L306.87,83.25 L307.46,83.25 L308.04,83.25 L308.62,83.25 L309.21,83.25 L309.79,83.25 L310.37,83.25 L310.95,83.25 L311.54,83.25 L312.12,83.25 L312.70,83.25 L313.29,83.25 L313.87,83.25 L314.45,83.25 L315.03,83.25 L315.62,83.25 L316.20,83.25 L316.78,83.25 L317.37,83.25 L317.95,83.25 L318.53,83.25 L319.11,83.25 L319.70,83.25 L320.28,83.25 L320.86,83.25 L321.45,83.25 L322.03,83.25 L322.61,83.25 L323.19,83.25 L323.78,83.25 L324.36,83.25 L324.94,83.25 L325.53,83.25 L326.11,83.25 L326.69,83.25 L327.27,83.25 L327.86,83.25 L328.44,83.25 L329.02,83.25 L329.61,83.25 L330.19,83.25 L330.77,83.25 L331.35,83.25 L331.94,83.25 L332.52,83.25 L333.10,83.25 L333.69,83.25 L334.27,83.25 L334.85,83.25 L335.43,83.25 L336.02,83.25 L336.60,83.25 L337.18,83.25 L337.77,83.25 L338.35,83.25 L338.93,83.25 L339.51,83.25 L340.10,83.25 L340.68,83.25 L341.26,83.25 L341.85,83.25 L342.43,83.25 L343.01,83.25 L343.59,83.25 L344.18,83.25 L344.76,83.25 L345.34,83.25 L345.93,83.25 L346.51,83.25 L347.09,83.25 L347.67,83.25 L348.26,83.25 L348.84,83.25 L349.42,83.25 L350.01,83.25 L350.59,83.25 L351.17,83.25 L351.75,83.25 L352.34,83.25 L352.92,83.25 L353.50,83.25 L354.08,83.25 L354.67,83.25 L355.25,83.25 L355.83,83.25 L356.42,83.25 L357.00,83.25 L357.58,83.25 L358.16,83.25 L358.75,83.25 L359.33,83.25 L359.91,83.25 L360.50,83.25 L361.08,83.25 L361.66,83.25 L362.24,83.25 L362.83,83.25 L363.41,83.25 L363.99,83.25 L364.58,83.25 L365.16,83.25 L365.74,83.25 L366.32,83.25 L366.91,83.25 L367.49,83.25 L368.07,83.25 L368.66,83.25 L369.24,83.25 L369.82,83.25 L370.40,83.25 L370.99,83.25 L371.57,83.25 L372.15,83.25 L372.74,83.25 L373.32,83.25 L373.90,83.25 L374.48,83.25 L375.07,83.25 L375.65,83.25 L376.23,83.25 L376.82,83.25 L377.40,83.25 L377.98,83.25 L378.56,83.25 L379.15,83.25 L379.73,83.25 L380.31,83.25 L380.90,83.25 L381.48,83.25 L382.06,83.25 L382.64,83.25 L383.23,83.25 L383.81,83.25 L384.39,83.25 L384.98,83.25 L385.56,83.25 L386.14,83.25 L386.72,83.25 L387.31,83.25 L387.89,83.25 L388.47,83.25 L389.06,83.25 L389.64,83.25 L390.22,83.25 L390.80,83.25 L391.39,83.25 L391.97,83.25 L392.55,83.25 L393.14,83.25 L393.72,83.25 L394.30,83.25 L394.88,83.25 L395.47,83.25 L396.05,83.25 L396.63,83.25 L397.22,83.25 L397.80,83.25 L398.38,83.25 L398.96,83.25 L399.55,83.25 L400.13,83.25 L400.71,83.25 L401.30,83.25 L401.88,83.25 L402.46,83.25 L403.04,83.25 L403.63,83.25 L404.21,83.25 L404.79,83.25 L405.30,83.25 L405.38,83.87 L405.96,90.07 L406.21,93.36 L406.54,99.23 L407.12,110.57 L407.20,111.70 L407.71,117.37 L408.10,120.86 L408.29,122.54 L408.87,127.31 L409.41,130.10 L409.46,130.25 L410.04,131.68 L410.62,132.76 L411.20,133.60 L411.79,134.32 L412.37,135.03 L412.71,135.48 L412.95,135.83 L413.54,136.63 L414.12,137.39 L414.70,138.12 L415.28,138.83 L415.87,139.54 L416.31,140.07 L416.45,140.24 L417.03,141.02 L417.62,141.84 L418.20,142.64 L418.78,143.36 L419.36,143.92 L419.95,144.27 L419.99,144.29 L420.53,144.46 L421.11,144.63 L421.70,144.78 L422.28,144.91 L422.86,145.02 L423.44,145.09 L424.03,145.14 L424.61,145.16 L424.61,145.16 L425.19,145.14 L425.78,145.07 L426.36,144.96 L426.94,144.82 L427.52,144.65 L428.11,144.47 L428.69,144.26 L429.27,144.05 L429.86,143.83 L430.01,143.78 L430.44,143.60 L431.02,143.31 L431.60,142.98 L432.19,142.60 L432.77,142.18 L433.35,141.74 L433.94,141.28 L434.52,140.81 L435.10,140.33 L435.68,139.85 L436.27,139.38 L436.51,139.19 L436.85,138.93 L437.43,138.46 L438.02,137.99 L438.60,137.51 L439.18,137.02 L439.76,136.53 L440.35,136.02 L440.93,135.50 L441.51,134.97 L442.10,134.43 L442.68,133.88 L442.90,133.67 L443.26,133.32 L443.84,132.74 L444.43,132.15 L445.01,131.54 L445.59,130.92 L446.18,130.28 L446.76,129.63 L447.34,128.97 L447.92,128.30 L448.01,128.21 L448.51,127.70 L449.09,127.11 L449.67,126.52 L450.26,125.92 L450.84,125.32 L451.42,124.71 L452.00,124.10 L452.59,123.48 L453.17,122.86 L453.75,122.24 L454.34,121.61 L454.92,120.98 L455.50,120.35 L456.08,119.71 L456.67,119.07 L457.25,118.42 L457.83,117.77 L458.42,117.12 L459.00,116.46 L459.58,115.80 L460.16,115.14 L460.75,114.47 L461.33,113.80 L461.91,113.13 L462.50,112.45 L463.08,111.78 L463.66,111.09 L464.24,110.41 L464.83,109.72 L465.41,109.03 L465.99,108.34 L466.58,107.65 L467.16,106.95 L467.74,106.25 L468.32,105.55 L468.91,104.85 L469.49,104.14 L470.07,103.43 L470.66,102.72 L471.24,102.01 L471.82,101.30 L472.40,100.58 L472.99,99.86 L473.57,99.14 L474.15,98.42 L474.74,97.70 L475.32,96.98 L475.90,96.25 L476.48,95.53 L477.07,94.80 L477.65,94.07 L478.23,93.34 L478.82,92.61 L479.40,91.88 L479.98,91.15 L480.56,90.41 L481.15,89.68 L481.73,88.95 L482.31,88.21 L482.90,87.48 L483.48,86.74 L484.06,86.00 L484.64,85.27 L485.23,84.53 L485.81,83.80 L486.39,83.06 L486.98,82.33 L487.56,81.59 L488.14,80.85 L488.72,80.12 L489.31,79.39 L489.89,78.65 L490.47,77.92 L491.06,77.19 L491.64,76.45 L492.22,75.72 L492.80,74.99 L493.39,74.26 L493.97,73.53 L494.55,72.81 L495.14,72.08 L495.72,71.36 L496.30,70.63 L496.88,69.91 L497.47,69.19 L498.05,68.47 L498.63,67.76 L499.22,67.04 L499.80,66.33 L500.38,65.62 L500.96,64.91 L501.55,64.20 L502.13,63.50 L502.71,62.79 L503.30,62.09 L503.88,61.40 L504.46,60.70 L505.04,60.01 L505.63,59.32 L506.21,58.63 L506.79,57.94 L507.38,57.26 L507.96,56.58 L508.54,55.91 L509.12,55.23 L509.71,54.56 L510.29,53.90 L510.87,53.23 L511.46,52.57 L512.04,51.92 L512.62,51.26 L513.20,50.61 L513.79,49.97 L514.37,49.32 L514.95,48.68 L515.54,48.05 L516.12,47.42 L516.70,46.79 L517.28,46.17 L517.87,45.55 L518.45,44.93 L519.03,44.32 L519.62,43.72 L520.20,43.12 L520.78,42.52 L521.36,41.92 L521.95,41.34 L522.53,40.75 L523.11,40.17 L523.70,39.60 L524.28,39.03 L524.86,38.47 L525.44,37.91 L526.03,37.35 L526.61,36.80 L527.19,36.26 L527.78,35.72 L528.36,35.18 L528.94,34.65 L529.52,34.13 L530.11,33.61 L530.69,33.10 L531.27,32.59 L531.86,32.09 L532.44,31.60 L533.02,31.11 L533.60,30.62 L534.19,30.14 L534.77,29.67 L535.35,29.20 L535.94,28.74 L536.52,28.29 L537.10,27.84 L537.68,27.40 L538.27,26.96 L538.85,26.53 L539.43,26.11 L540.02,25.69 L540.60,25.28 L541.18,24.87 L541.76,24.47 L542.35,24.08 L542.93,23.70 L543.51,23.32 L544.10,22.94 L544.68,22.58 L545.26,22.22 L545.84,21.87 L546.43,21.52 L547.01,21.18 L547.59,20.85 L548.18,20.52 L548.76,20.21 L549.34,19.89 L549.92,19.59 L550.51,19.29 L551.09,19.00 L551.67,18.72 L552.26,18.44 L552.84,18.17 L553.42,17.91 L554.00,17.66 L554.59,17.41 L555.17,17.17 L555.75,16.94 L556.34,16.71 L556.92,16.49 L557.50,16.28 L558.08,16.08 L558.67,15.88 L559.25,15.69 L559.83,15.51 L560.42,15.34 L561.00,15.17 L561.58,15.01 L562.16,14.86 L562.75,14.71 L563.33,14.58 L563.91,14.45 L564.50,14.33 L565.08,14.21 L565.66,14.11 L566.24,14.01 L566.83,13.92 L567.41,13.83 L567.99,13.76 L568.58,13.69 L569.16,13.63 L569.74,13.57 L570.32,13.53 L570.91,13.49 L571.49,13.46 L572.07,13.44 L572.66,13.42 L573.24,13.42 L573.82,13.42 L574.40,13.43 L574.99,13.44 L575.57,13.47 L576.15,13.50 L576.74,13.54 L577.32,13.58 L577.90,13.64 L578.48,13.70 L579.07,13.77 L579.65,13.85 L580.23,13.93 L580.82,14.02 L581.40,14.12 L581.98,14.23 L582.56,14.35 L583.15,14.47 L583.73,14.60 L584.31,14.74 L584.90,14.88 L585.48,15.04 L586.06,15.20 L586.64,15.36 L587.23,15.54 L587.81,15.72 L588.39,15.91 L588.98,16.11 L589.56,16.32 L590.14,16.53 L590.72,16.75 L591.31,16.97 L591.89,17.21 L592.47,17.45 L593.06,17.70 L593.64,17.95 L594.22,18.22 L594.80,18.49 L595.39,18.77 L595.97,19.05 L596.55,19.34 L597.14,19.64 L597.72,19.95 L598.30,20.26 L598.88,20.58 L599.47,20.90 L600.05,21.24 L600.63,21.58 L601.22,21.92 L601.80,22.28 L602.38,22.64 L602.96,23.00 L603.55,23.38 L604.13,23.76 L604.71,24.14 L605.30,24.54 L605.88,24.94 L606.46,25.34 L607.04,25.75 L607.63,26.17 L608.21,26.60 L608.79,27.03 L609.38,27.47 L609.96,27.91 L610.54,28.36 L611.12,28.81 L611.71,29.28 L612.29,29.74 L612.87,30.22 L613.46,30.69 L614.04,31.18 L614.62,31.67 L615.20,32.17 L615.79,32.67 L616.37,33.18 L616.95,33.69 L617.54,34.21 L618.12,34.73 L618.70,35.26 L619.28,35.79 L619.87,36.33 L620.45,36.88 L621.03,37.43 L621.62,37.98 L622.20,38.54 L622.78,39.11 L623.36,39.68 L623.95,40.25 L624.53,40.83 L625.11,41.41 L625.70,42.00 L626.28,42.59 L626.86,43.19 L627.44,43.79 L628.03,44.40 L628.61,45.01 L629.19,45.62 L629.78,46.24 L630.36,46.87 L630.94,47.49 L631.52,48.12 L632.11,48.76 L632.69,49.40 L633.27,50.04 L633.86,50.68 L634.44,51.33 L635.02,51.98 L635.60,52.64 L636.19,53.30 L636.77,53.96 L637.35,54.63 L637.94,55.30 L638.52,55.97 L639.10,56.65 L639.68,57.32 L640.27,58.00 L640.85,58.69 L641.43,59.37 L642.02,60.06 L642.60,60.76 L643.18,61.45 L643.76,62.15 L644.35,62.84 L644.93,63.55 L645.51,64.25 L646.10,64.95 L646.68,65.66 L647.26,66.37 L647.84,67.08 L648.43,67.79 L649.01,68.51 L649.59,69.23 L650.18,69.94 L650.76,70.66 L651.34,71.38 L651.92,72.10 L652.51,72.83 L653.09,73.55 L653.67,74.28 L654.26,75.00 L654.84,75.73 L655.42,76.46 L656.00,77.19 L656.59,77.92 L657.17,78.65 L657.75,79.38 L658.34,80.11 L658.92,80.84 L659.50,81.57 L660.08,82.30 L660.67,83.03 L661.25,83.77 L661.83,84.50 L662.42,85.23 L663.00,85.96 L663.58,86.69 L664.16,87.42 L664.75,88.15 L665.33,88.88 L665.91,89.61 L666.50,90.34 L667.08,91.07 L667.66,91.79 L668.24,92.52 L668.83,93.25 L669.41,93.97 L669.99,94.69 L670.58,95.41 L671.16,96.13 L671.74,96.85 L672.32,97.57 L672.91,98.28 L673.49,99.00 L674.07,99.71 L674.66,100.42 L675.24,101.13 L675.82,101.84 L676.40,102.54 L676.99,103.24 L677.57,103.94 L678.15,104.64 L678.74,105.34 L679.32,106.03 L679.90,106.72 L680.48,107.41 L681.07,108.09 L681.65,108.78 L682.23,109.45 L682.82,110.13 L683.40,110.81 L683.98,111.48 L684.56,112.14 L685.15,112.81 L685.73,113.47 L686.31,114.13 L686.90,114.78 L687.48,115.43 L688.06,116.08 L688.64,116.73 L689.23,117.37 L689.81,118.00 L690.39,118.64 L690.98,119.27 L691.56,119.89 L692.14,120.51 L692.72,121.13 L693.31,121.74 L693.89,122.35 L694.47,122.95 L695.06,123.55 L695.64,124.15 L696.22,124.74 L696.80,125.33 L697.39,125.91 L697.97,126.49 L698.55,127.06 L699.14,127.63 L699.72,128.19 L700.30,128.75 L700.88,129.30 L701.47,129.85 L702.05,130.39 L702.63,130.93 L703.22,131.46 L703.80,131.99 L704.38,132.51 L704.96,133.02 L705.55,133.53 L706.13,134.04 L706.71,134.54 L707.30,135.03 L707.88,135.52 L708.46,136.00 L709.04,136.48 L709.63,136.95 L710.21,137.42 L710.79,137.87 L711.38,138.33 L711.96,138.77 L712.54,139.22 L713.12,139.65 L713.71,140.08 L714.29,140.50 L714.87,140.92 L715.46,141.33 L716.04,141.73 L716.62,142.13 L717.20,142.52 L717.79,142.90 L718.37,143.28 L718.95,143.65 L719.54,144.01 L720.12,144.37 L720.70,144.72 L721.28,145.07 L721.87,145.40 L722.45,145.73 L723.03,146.06 L723.62,146.37 L724.20,146.68 L724.78,146.99 L725.36,147.28 L725.95,147.57 L726.53,147.85 L727.11,148.13 L727.70,148.39 L728.28,148.65 L728.86,148.91 L729.44,149.15 L730.03,149.39 L730.61,149.62 L731.19,149.85 L731.78,150.06 L732.36,150.27 L732.94,150.48 L733.52,150.67 L734.11,150.86 L734.69,151.04 L735.27,151.21 L735.86,151.37 L736.44,151.53 L737.02,151.68 L737.60,151.82 L738.19,151.96 L738.77,152.09 L739.35,152.21 L739.94,152.32 L740.52,152.42 L741.10,152.52 L741.68,152.61 L742.27,152.69 L742.85,152.77 L743.43,152.83 L744.02,152.89 L744.60,152.94 L745.18,152.99 L745.76,153.02 L746.35,153.05 L746.93,153.07 L747.51,153.08 L748.10,153.09 L748.68,153.09 L749.26,153.08 L749.84,153.06 L750.43,153.03 L751.01,153.00 L751.59,152.96 L752.18,152.91 L752.76,152.86 L753.34,152.79 L753.92,152.72 L754.51,152.64 L755.09,152.56 L755.67,152.46 L756.26,152.36 L756.84,152.25 L757.42,152.13 L758.00,152.01 L758.59,151.88 L759.17,151.74 L759.75,151.59 L760.34,151.44 L760.92,151.27 L761.50,151.11 L762.08,150.93 L762.67,150.74 L763.25,150.55 L763.83,150.35 L764.42,150.15 L765.00,149.93 L765.58,149.71 L766.16,149.48 L766.75,149.25 L767.33,149.00 L767.91,148.75 L768.50,148.50 L769.08,148.23 L769.66,147.96 L770.24,147.68 L770.83,147.40 L771.41,147.10 L771.99,146.80 L772.58,146.50 L773.16,146.18 L773.74,145.86 L774.32,145.53 L774.91,145.20 L775.49,144.86 L776.07,144.51 L776.66,144.15 L777.24,143.79 L777.82,143.42 L778.40,143.05 L778.99,142.67 L779.57,142.28 L780.15,141.89 L780.74,141.49 L781.32,141.08 L781.90,140.66 L782.48,140.24 L783.07,139.82 L783.65,139.39 L784.23,138.95 L784.82,138.50 L785.40,138.05 L785.98,137.60 L786.56,137.13 L787.15,136.66 L787.73,136.19 L788.31,135.71 L788.89,135.22 L789.48,134.73 L790.06,134.23 L790.64,133.73 L791.23,133.22 L791.81,132.71 L792.39,132.19 L792.97,131.67 L793.56,131.14 L794.14,130.60 L794.72,130.06 L795.31,129.51 L795.89,128.96 L796.47,128.41 L797.05,127.85 L797.64,127.28 L798.22,126.71 L798.80,126.13 L799.39,125.55 L799.97,124.97 L800.55,124.38 L801.13,123.79 L801.72,123.19 L802.30,122.59 L802.88,121.98 L803.47,121.37 L804.05,120.75 L804.63,120.13 L805.21,119.51 L805.80,118.88 L806.38,118.25 L806.96,117.62 L807.55,116.98 L808.13,116.33 L808.71,115.69 L809.29,115.04 L809.88,114.39 L810.46,113.73 L811.04,113.07 L811.63,112.40 L812.21,111.74 L812.79,111.07 L813.37,110.40 L813.96,109.72 L814.54,109.04 L815.12,108.36 L815.71,107.68 L816.29,106.99 L816.87,106.30 L817.45,105.61 L818.04,104.91 L818.62,104.22 L819.20,103.52 L819.79,102.81 L820.37,102.11 L820.95,101.41 L821.53,100.70 L822.12,99.99 L822.70,99.28 L823.28,98.56 L823.87,97.85 L824.45,97.13 L825.03,96.41 L825.61,95.69 L826.20,94.97 L826.78,94.25 L827.36,93.53 L827.95,92.80 L828.53,92.08 L829.11,91.35 L829.69,90.62 L830.28,89.90 L830.86,89.17 L831.44,88.44 L832.03,87.71 L832.61,86.98 L833.19,86.25 L833.77,85.51 L834.36,84.78 L834.94,84.05 L835.52,83.32 L836.11,82.59 L836.69,81.86 L837.27,81.12 L837.85,80.39 L838.44,79.66 L839.02,78.93 L839.60,78.20 L840.19,77.47 L840.77,76.74 L841.35,76.01 L841.93,75.29 L842.52,74.56 L843.10,73.83 L843.68,73.11 L844.27,72.39 L844.85,71.66 L845.43,70.94 L846.01,70.22 L846.60,69.50 L847.18,68.79 L847.76,68.07 L848.35,67.36 L848.93,66.65 L849.51,65.94 L850.09,65.23 L850.68,64.52 L851.26,63.82 L851.84,63.12 L852.43,62.42 L853.01,61.72 L853.59,61.03 L854.17,60.33 L854.76,59.64 L855.34,58.96 L855.92,58.27 L856.51,57.59 L857.09,56.91 L857.67,56.23 L858.25,55.56 L858.84,54.89 L859.42,54.22 L860.00,53.56 L860.59,52.90 L861.17,52.24 L861.75,51.59 L862.33,50.94 L862.92,50.29 L863.50,49.64 L864.08,49.01 L864.67,48.37 L865.25,47.74 L865.83,47.11 L866.41,46.48 L867.00,45.86 L867.58,45.25 L868.16,44.64 L868.75,44.03 L869.33,43.43 L869.91,42.83 L870.49,42.23 L871.08,41.64 L871.66,41.06 L872.24,40.48 L872.83,39.90 L873.41,39.33 L873.99,38.76 L874.57,38.20 L875.16,37.64 L875.74,37.09 L876.32,36.54 L876.91,36.00 L877.49,35.47 L878.07,34.94 L878.65,34.41 L879.24,33.89 L879.82,33.37 L880.40,32.86 L880.99,32.36 L881.57,31.86 L882.15,31.37 L882.73,30.88 L883.32,30.40 L883.90,29.93 L884.48,29.46 L885.07,28.99 L885.65,28.53 L886.23,28.08 L886.81,27.64 L887.40,27.20 L887.98,26.76 L888.56,26.34 L889.15,25.92 L889.73,25.50 L890.31,25.09 L890.89,24.69 L891.48,24.29 L892.06,23.91 L892.64,23.52 L893.23,23.15 L893.81,22.78 L894.39,22.41 L894.97,22.06 L895.56,21.71 L896.14,21.37 L896.72,21.03 L897.31,20.70 L897.89,20.38 L898.47,20.06 L899.05,19.76 L899.64,19.45 L900.22,19.16 L900.80,18.87 L901.39,18.59 L901.97,18.32 L902.55,18.05 L903.13,17.79 L903.72,17.54 L904.30,17.30 L904.88,17.06 L905.47,16.83 L906.05,16.61 L906.63,16.39 L907.21,16.19 L907.80,15.99 L908.38,15.79 L908.96,15.61 L909.55,15.43 L910.13,15.26 L910.71,15.09 L911.29,14.94 L911.88,14.79 L912.46,14.65 L913.04,14.51 L913.63,14.39 L914.21,14.27 L914.79,14.16 L915.37,14.06 L915.96,13.96 L916.54,13.87 L917.12,13.79 L917.71,13.72 L918.29,13.65 L918.87,13.60 L919.45,13.55 L920.04,13.51 L920.62,13.47 L921.20,13.44 L921.79,13.43 L922.37,13.41 L922.95,13.41 L923.53,13.41 L924.12,13.43 L924.70,13.44 L925.28,13.47 L925.87,13.51 L926.45,13.55 L927.03,13.60 L927.61,13.66 L928.20,13.72 L928.78,13.79 L929.36,13.87 L929.95,13.96 L930.53,14.06 L931.11,14.16 L931.69,14.27 L932.28,14.39 L932.86,14.52 L933.44,14.65 L934.03,14.79 L934.61,14.94 L935.19,15.09 L935.77,15.26 L936.36,15.43 L936.94,15.61 L937.52,15.79 L938.11,15.99 L938.69,16.19 L939.27,16.40 L939.85,16.61 L940.44,16.83 L941.02,17.06 L941.60,17.30 L942.19,17.55 L942.77,17.80 L943.35,18.06 L943.93,18.32 L944.52,18.60 L945.10,18.88 L945.68,19.16 L946.27,19.46 L946.85,19.76 L947.43,20.07 L948.01,20.38 L948.60,20.70 L949.18,21.03 L949.76,21.37 L950.35,21.71 L950.93,22.06 L951.51,22.42 L952.09,22.78 L952.68,23.15 L953.26,23.53 L953.84,23.91 L954.43,24.30 L955.01,24.69 L955.59,25.10 L956.17,25.50 L956.76,25.92 L957.34,26.34 L957.92,26.77 L958.51,27.20 L959.09,27.64 L959.67,28.09 L960.25,28.54 L960.84,29.00 L961.42,29.46 L962.00,29.93 L962.59,30.41 L963.17,30.89 L963.75,31.37 L964.33,31.87 L964.92,32.37 L965.50,32.87 L966.08,33.38 L966.67,33.89 L967.25,34.41 L967.83,34.94 L968.41,35.47 L969.00,36.01 L969.58,36.55 L970.16,37.10 L970.75,37.65 L971.33,38.20 L971.91,38.77 L972.49,39.33 L973.08,39.90 L973.66,40.48 L974.24,41.06 L974.83,41.65 L975.41,42.24 L975.99,42.83 L976.57,43.43 L977.16,44.03 L977.74,44.64 L978.32,45.25 L978.91,45.87 L979.49,46.49 L980.07,47.11 L980.65,47.74 L981.24,48.38 L981.82,49.01 L982.40,49.65 L982.99,50.29 L983.57,50.94 L984.15,51.59 L984.73,52.25 L985.32,52.90 L985.90,53.56 L986.48,54.23 L987.07,54.90 L987.65,55.57 L988.23,56.24 L988.81,56.92 L989.40,57.60 L989.98,58.28 L990.56,58.96 L991.15,59.65 L991.73,60.34 L992.31,61.03 L992.89,61.73 L993.48,62.42 L994.06,63.12 L994.64,63.83 L995.23,64.53 L995.81,65.24 L996.39,65.94 L996.97,66.65 L997.56,67.37 L998.14,68.08 L998.72,68.79 L999.31,69.51 L999.89,70.23 L1000.47,70.95 L1001.05,71.67 L1001.64,72.39 L1002.22,73.12 L1002.80,73.84 L1003.39,74.57 L1003.97,75.29 L1004.55,76.02 L1005.13,76.75 L1005.72,77.48 L1006.30,78.21" stroke="#ff0000" transform="translate(0,-0.5)"/>
</g>
<g class="tk">
<text x="132.60" y="170.8" text-anchor="middle">0.02</text>
<text x="219.97" y="170.8" text-anchor="middle">0.025</text>
<text x="307.34" y="170.8" text-anchor="middle">0.03</text>
<text x="394.71" y="170.8" text-anchor="middle">0.035</text>
<text x="482.08" y="170.8" text-anchor="middle">0.04</text>
<text x="569.45" y="170.8" text-anchor="middle">0.045</text>
<text x="656.82" y="170.8" text-anchor="middle">0.05</text>
<text x="744.19" y="170.8" text-anchor="middle">0.055</text>
<text x="831.56" y="170.8" text-anchor="middle">0.06</text>
<text x="918.93" y="170.8" text-anchor="middle">0.065</text>
<text x="1006.30" y="170.8" text-anchor="middle">0.07</text>
<text x="130" y="15.60" text-anchor="end">100</text>
<text x="130" y="52.40" text-anchor="end">50</text>
<text x="130" y="88.30" text-anchor="end">0</text>
<text x="130" y="124.70" text-anchor="end">-50</text>
<text x="130" y="161.20" text-anchor="end">-100</text>
<text x="132.60" y="372.2" text-anchor="middle">0.02</text>
<text x="219.97" y="372.2" text-anchor="middle">0.025</text>
<text x="307.34" y="372.2" text-anchor="middle">0.03</text>
<text x="394.71" y="372.2" text-anchor="middle">0.035</text>
<text x="482.08" y="372.2" text-anchor="middle">0.04</text>
<text x="569.45" y="372.2" text-anchor="middle">0.045</text>
<text x="656.82" y="372.2" text-anchor="middle">0.05</text>
<text x="744.19" y="372.2" text-anchor="middle">0.055</text>
<text x="831.56" y="372.2" text-anchor="middle">0.06</text>
<text x="918.93" y="372.2" text-anchor="middle">0.065</text>
<text x="1006.30" y="372.2" text-anchor="middle">0.07</text>
<text x="130" y="217.50" text-anchor="end">400</text>
<text x="130" y="253.70" text-anchor="end">200</text>
<text x="130" y="289.90" text-anchor="end">0</text>
<text x="130" y="326.10" text-anchor="end">-200</text>
<text x="130" y="362.30" text-anchor="end">-400</text>
</g>
<g class="yl" text-anchor="middle">
<text class="tl" x="571.7" y="389.6">Time (s)</text>
<text x="55.4" y="70.9">Phase a</text>
<text x="55.4" y="89.9">Load Current</text>
<text x="55.4" y="109.0">(A)</text>
<text x="50.5" y="276.3">Three-Phase</text>
<text x="50.6" y="294.8" textLength="93.6" lengthAdjust="spacingAndGlyphs">Load Voltage</text>
<text x="50.5" y="313.6">(A)</text>
</g>
<g class="an">
<rect x="265.3" y="17.1" width="116.0" height="18.5" fill="#fff"/><text x="267.3" y="30.6" style="letter-spacing:0.2px">Load step up instant</text>
<rect x="793.6" y="23.2" width="48.0" height="18.5" fill="#fff"/><text x="795.6" y="36.7">phase a</text>
<rect x="534.6" y="248.9" width="48.0" height="18.5" fill="#fff"/><text x="536.6" y="262.4">phase a</text>
<rect x="666.4" y="248.9" width="48.0" height="18.5" fill="#fff"/><text x="668.4" y="262.4" style="letter-spacing:0px" textLength="44.6" lengthAdjust="spacingAndGlyphs">phase b</text>
<rect x="782.0" y="248.2" width="47.0" height="18.5" fill="#fff"/><text x="784.0" y="261.7">phase c</text>
</g>
<path d="M380.20,26.90 L397.52,21.49" stroke="#111" stroke-width="0.8" fill="none"/><path d="M404.20,19.40 L396.24,25.77 L397.52,21.49 L394.03,18.70 Z" fill="#000"/>
<path d="M841.00,39.50 L848.82,51.71" stroke="#111" stroke-width="0.8" fill="none"/><path d="M852.60,57.60 L844.36,51.60 L848.82,51.71 L850.59,47.61 Z" fill="#000"/>
<path d="M557.60,249.70 L554.48,244.03" stroke="#111" stroke-width="0.8" fill="none"/><path d="M551.10,237.90 L558.92,244.44 L554.48,244.03 L552.44,248.01 Z" fill="#000"/>
<path d="M666.60,249.70 L660.00,240.90" stroke="#111" stroke-width="0.8" fill="none"/><path d="M655.80,235.30 L664.46,240.68 L660.00,240.90 L658.54,245.12 Z" fill="#000"/>
<path d="M782.10,248.20 L774.83,241.17" stroke="#111" stroke-width="0.8" fill="none"/><path d="M769.80,236.30 L779.20,240.25 L774.83,241.17 L774.05,245.56 Z" fill="#000"/>
<g class="sf">
<text x="495" y="429.3" style="font-size:29px;">(</text>
<text x="504.6" y="428.7" style="font-size:25.8px;font-weight:bold;">a</text>
<text x="518" y="429.3" style="font-size:29px;">)</text>
</g>
</svg>
</body></html>
